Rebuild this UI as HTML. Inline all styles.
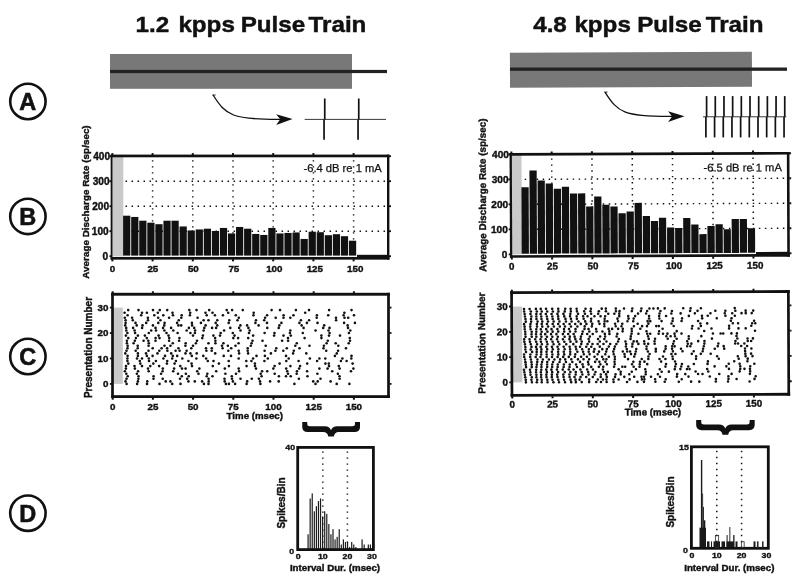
<!DOCTYPE html>
<html><head><meta charset="utf-8"><title>Pulse Train Figure</title>
<style>
html,body{margin:0;padding:0;background:#fff;}
body{width:800px;height:585px;overflow:hidden;}
svg{display:block;}
text{font-family:"Liberation Sans",Arial,Helvetica,sans-serif;fill:#111;}
.t,.ty,.yl,.ax{stroke:#111;stroke-width:.4px;}
.t{font-size:9.8px;font-weight:bold;}
.ty{font-size:10.1px;font-weight:bold;}
.yl{font-size:9.9px;font-weight:bold;}
.ax{font-size:10px;font-weight:bold;}
.td{font-size:8px;font-weight:bold;stroke:#111;stroke-width:.35px;}
.tm{font-size:9.7px;font-weight:bold;stroke:#111;stroke-width:.4px;}
.ann{font-size:11.2px;stroke:#111;stroke-width:.25px;}
.ttl{font-size:22px;font-weight:bold;}
.cl{font-size:23.5px;font-weight:bold;stroke:#111;stroke-width:.6px;}
.ttl{stroke:#111;stroke-width:.45px;}
</style></head><body>
<svg width="800" height="585" viewBox="0 0 800 585">
<rect width="800" height="585" fill="#fff"/>

<circle cx="27.9" cy="101.5" r="17.7" fill="none" stroke="#111" stroke-width="2.6"/>
<text class="cl" x="27.7" y="110.0" text-anchor="middle">A</text>
<circle cx="27.9" cy="216.4" r="17.7" fill="none" stroke="#111" stroke-width="2.6"/>
<text class="cl" x="27.7" y="224.9" text-anchor="middle">B</text>
<circle cx="27.9" cy="356.5" r="17.7" fill="none" stroke="#111" stroke-width="2.6"/>
<text class="cl" x="27.7" y="365.0" text-anchor="middle">C</text>
<circle cx="27.9" cy="513.2" r="17.7" fill="none" stroke="#111" stroke-width="2.6"/>
<text class="cl" x="27.7" y="521.7" text-anchor="middle">D</text>
<text class="ttl" transform="translate(135.5 32.4) scale(1.1 1)">1.2</text>
<text class="ttl" transform="translate(178.4 32.4) scale(1.1 1)">kpps</text>
<text class="ttl" transform="translate(240.7 32.4) scale(1.1 1)">Pulse</text>
<text class="ttl" transform="translate(308.6 32.4) scale(1.1 1)">Train</text>
<text class="ttl" transform="translate(533.2 31.8) scale(1.1 1)">4.8</text>
<text class="ttl" transform="translate(574.4 31.8) scale(1.1 1)">kpps</text>
<text class="ttl" transform="translate(637.2 31.8) scale(1.1 1)">Pulse</text>
<text class="ttl" transform="translate(705.7 31.8) scale(1.1 1)">Train</text>
<rect x="110" y="54" width="242" height="34.8" fill="#787878"/>
<rect x="110" y="69.9" width="277" height="3.2" fill="#222"/>
<g transform="rotate(-0.2332 512 205)"><rect x="510.5" y="52.8" width="242" height="34.9" fill="#787878"/></g>
<rect x="510" y="67.5" width="277" height="3.3" fill="#222"/>
<g transform="translate(0 0)">
<path d="M213.1 95 C226 115.5, 232 119.7, 281 119.3" fill="none" stroke="#111" stroke-width="1.3"/>
<path d="M292.6 119.1 L276.2 114.2 L280.2 119.3 L276.2 124.9 Z" fill="#111"/>
<line x1="212.3" y1="95" x2="215.6" y2="95" stroke="#111" stroke-width="0.9"/>
</g>
<g transform="translate(391.9 -2.9)">
<path d="M213.1 95 C226 115.5, 232 119.7, 281 119.3" fill="none" stroke="#111" stroke-width="1.3"/>
<path d="M292.6 119.1 L276.2 114.2 L280.2 119.3 L276.2 124.9 Z" fill="#111"/>
<line x1="212.3" y1="95" x2="215.6" y2="95" stroke="#111" stroke-width="0.9"/>
</g>
<line x1="304.7" y1="119.4" x2="386" y2="119.4" stroke="#222" stroke-width="0.9"/>
<line x1="324.75" y1="98.5" x2="324.75" y2="119.4" stroke="#111" stroke-width="1.7"/>
<line x1="324.05" y1="119.4" x2="324.05" y2="139.8" stroke="#111" stroke-width="1.7"/>
<line x1="358.75" y1="98.5" x2="358.75" y2="119.4" stroke="#111" stroke-width="1.7"/>
<line x1="358.05" y1="119.4" x2="358.05" y2="139.8" stroke="#111" stroke-width="1.7"/>
<line x1="703" y1="116.8" x2="786.3" y2="116.8" stroke="#222" stroke-width="0.9"/>
<line x1="706.60" y1="96.1" x2="706.60" y2="116.8" stroke="#111" stroke-width="1.7"/>
<line x1="705.90" y1="116.8" x2="705.90" y2="137.4" stroke="#111" stroke-width="1.7"/>
<line x1="715.28" y1="96.1" x2="715.28" y2="116.8" stroke="#111" stroke-width="1.7"/>
<line x1="714.58" y1="116.8" x2="714.58" y2="137.4" stroke="#111" stroke-width="1.7"/>
<line x1="723.97" y1="96.1" x2="723.97" y2="116.8" stroke="#111" stroke-width="1.7"/>
<line x1="723.27" y1="116.8" x2="723.27" y2="137.4" stroke="#111" stroke-width="1.7"/>
<line x1="732.65" y1="96.1" x2="732.65" y2="116.8" stroke="#111" stroke-width="1.7"/>
<line x1="731.95" y1="116.8" x2="731.95" y2="137.4" stroke="#111" stroke-width="1.7"/>
<line x1="741.33" y1="96.1" x2="741.33" y2="116.8" stroke="#111" stroke-width="1.7"/>
<line x1="740.63" y1="116.8" x2="740.63" y2="137.4" stroke="#111" stroke-width="1.7"/>
<line x1="750.01" y1="96.1" x2="750.01" y2="116.8" stroke="#111" stroke-width="1.7"/>
<line x1="749.31" y1="116.8" x2="749.31" y2="137.4" stroke="#111" stroke-width="1.7"/>
<line x1="758.70" y1="96.1" x2="758.70" y2="116.8" stroke="#111" stroke-width="1.7"/>
<line x1="758.00" y1="116.8" x2="758.00" y2="137.4" stroke="#111" stroke-width="1.7"/>
<line x1="767.38" y1="96.1" x2="767.38" y2="116.8" stroke="#111" stroke-width="1.7"/>
<line x1="766.68" y1="116.8" x2="766.68" y2="137.4" stroke="#111" stroke-width="1.7"/>
<line x1="776.06" y1="96.1" x2="776.06" y2="116.8" stroke="#111" stroke-width="1.7"/>
<line x1="775.36" y1="116.8" x2="775.36" y2="137.4" stroke="#111" stroke-width="1.7"/>
<line x1="784.75" y1="96.1" x2="784.75" y2="116.8" stroke="#111" stroke-width="1.7"/>
<line x1="784.05" y1="116.8" x2="784.05" y2="137.4" stroke="#111" stroke-width="1.7"/>
<rect x="111.55" y="155.95" width="11.75" height="100.25" fill="#c9c9c9"/>
<line x1="125.55" y1="231.20" x2="388.20" y2="231.20" stroke="#111" stroke-width="1.4" stroke-dasharray="1.5 4.5"/>
<line x1="125.55" y1="206.20" x2="388.20" y2="206.20" stroke="#111" stroke-width="1.4" stroke-dasharray="1.5 4.5"/>
<line x1="125.55" y1="181.20" x2="388.20" y2="181.20" stroke="#111" stroke-width="1.4" stroke-dasharray="1.5 4.5"/>
<line x1="152.60" y1="160.15" x2="152.60" y2="255.20" stroke="#111" stroke-width="1.5" stroke-dasharray="1.4 4.6"/>
<line x1="192.80" y1="160.15" x2="192.80" y2="255.20" stroke="#111" stroke-width="1.5" stroke-dasharray="1.4 4.6"/>
<line x1="233.00" y1="160.15" x2="233.00" y2="255.20" stroke="#111" stroke-width="1.5" stroke-dasharray="1.4 4.6"/>
<line x1="273.20" y1="160.15" x2="273.20" y2="255.20" stroke="#111" stroke-width="1.5" stroke-dasharray="1.4 4.6"/>
<line x1="313.40" y1="160.15" x2="313.40" y2="255.20" stroke="#111" stroke-width="1.5" stroke-dasharray="1.4 4.6"/>
<line x1="353.60" y1="160.15" x2="353.60" y2="255.20" stroke="#111" stroke-width="1.5" stroke-dasharray="1.4 4.6"/>
<rect x="123.10" y="215.70" width="7.22" height="39.90" fill="#111"/>
<rect x="131.17" y="216.95" width="7.22" height="38.65" fill="#111"/>
<rect x="139.23" y="220.70" width="7.22" height="34.90" fill="#111"/>
<rect x="147.30" y="222.70" width="7.22" height="32.90" fill="#111"/>
<rect x="155.36" y="224.20" width="7.22" height="31.40" fill="#111"/>
<rect x="163.43" y="220.70" width="7.22" height="34.90" fill="#111"/>
<rect x="171.50" y="220.70" width="7.22" height="34.90" fill="#111"/>
<rect x="179.56" y="226.45" width="7.22" height="29.15" fill="#111"/>
<rect x="187.63" y="230.45" width="7.22" height="25.15" fill="#111"/>
<rect x="195.69" y="229.45" width="7.22" height="26.15" fill="#111"/>
<rect x="203.76" y="228.70" width="7.22" height="26.90" fill="#111"/>
<rect x="211.83" y="230.95" width="7.22" height="24.65" fill="#111"/>
<rect x="219.89" y="227.95" width="7.22" height="27.65" fill="#111"/>
<rect x="227.96" y="233.45" width="7.22" height="22.15" fill="#111"/>
<rect x="236.02" y="226.95" width="7.22" height="28.65" fill="#111"/>
<rect x="244.09" y="228.70" width="7.22" height="26.90" fill="#111"/>
<rect x="252.16" y="233.95" width="7.22" height="21.65" fill="#111"/>
<rect x="260.22" y="234.95" width="7.22" height="20.65" fill="#111"/>
<rect x="268.29" y="227.95" width="7.22" height="27.65" fill="#111"/>
<rect x="276.35" y="233.45" width="7.22" height="22.15" fill="#111"/>
<rect x="284.42" y="232.95" width="7.22" height="22.65" fill="#111"/>
<rect x="292.49" y="232.45" width="7.22" height="23.15" fill="#111"/>
<rect x="300.55" y="238.95" width="7.22" height="16.65" fill="#111"/>
<rect x="308.62" y="231.70" width="7.22" height="23.90" fill="#111"/>
<rect x="316.68" y="232.20" width="7.22" height="23.40" fill="#111"/>
<rect x="324.75" y="235.20" width="7.22" height="20.40" fill="#111"/>
<rect x="332.82" y="234.20" width="7.22" height="21.40" fill="#111"/>
<rect x="340.88" y="236.20" width="7.22" height="19.40" fill="#111"/>
<rect x="348.95" y="240.70" width="7.22" height="14.90" fill="#111"/>
<rect x="357.01" y="254.80" width="31.19" height="3" fill="#111"/>
<rect x="110.65" y="154.60" width="1.8" height="105.05" fill="#111"/>
<rect x="387.00" y="154.60" width="2.4" height="105.05" fill="#111"/>
<rect x="110.65" y="154.60" width="278.75" height="2.7" fill="#111"/>
<rect x="110.65" y="256.95" width="278.75" height="2.7" fill="#111"/>
<rect x="111.40" y="153.10" width="2.0" height="2.2" fill="#111"/>
<rect x="111.40" y="259.15" width="2.0" height="2.2" fill="#111"/>
<text class="t" x="112.40" y="271.50" text-anchor="middle">0</text>
<rect x="151.60" y="153.10" width="2.0" height="2.2" fill="#111"/>
<rect x="151.60" y="259.15" width="2.0" height="2.2" fill="#111"/>
<text class="t" x="152.88" y="271.50" text-anchor="middle">25</text>
<rect x="191.80" y="153.10" width="2.0" height="2.2" fill="#111"/>
<rect x="191.80" y="259.15" width="2.0" height="2.2" fill="#111"/>
<text class="t" x="193.36" y="271.50" text-anchor="middle">50</text>
<rect x="232.00" y="153.10" width="2.0" height="2.2" fill="#111"/>
<rect x="232.00" y="259.15" width="2.0" height="2.2" fill="#111"/>
<text class="t" x="233.84" y="271.50" text-anchor="middle">75</text>
<rect x="272.20" y="153.10" width="2.0" height="2.2" fill="#111"/>
<rect x="272.20" y="259.15" width="2.0" height="2.2" fill="#111"/>
<text class="t" x="274.33" y="271.50" text-anchor="middle">100</text>
<rect x="312.40" y="153.10" width="2.0" height="2.2" fill="#111"/>
<rect x="312.40" y="259.15" width="2.0" height="2.2" fill="#111"/>
<text class="t" x="314.81" y="271.50" text-anchor="middle">125</text>
<rect x="352.60" y="153.10" width="2.0" height="2.2" fill="#111"/>
<rect x="352.60" y="259.15" width="2.0" height="2.2" fill="#111"/>
<text class="t" x="355.29" y="271.50" text-anchor="middle">150</text>
<rect x="109.45" y="255.30" width="2" height="1.8" fill="#111"/>
<rect x="389.00" y="255.30" width="2" height="1.8" fill="#111"/>
<text class="ty" x="108.15" y="259.80" text-anchor="end">0</text>
<rect x="109.45" y="230.30" width="2" height="1.8" fill="#111"/>
<rect x="389.00" y="230.30" width="2" height="1.8" fill="#111"/>
<text class="ty" x="108.62" y="234.80" text-anchor="end">100</text>
<rect x="109.45" y="205.30" width="2" height="1.8" fill="#111"/>
<rect x="389.00" y="205.30" width="2" height="1.8" fill="#111"/>
<text class="ty" x="109.10" y="209.80" text-anchor="end">200</text>
<rect x="109.45" y="180.30" width="2" height="1.8" fill="#111"/>
<rect x="389.00" y="180.30" width="2" height="1.8" fill="#111"/>
<text class="ty" x="109.58" y="184.80" text-anchor="end">300</text>
<rect x="109.45" y="155.30" width="2" height="1.8" fill="#111"/>
<rect x="389.00" y="155.30" width="2" height="1.8" fill="#111"/>
<text class="ty" x="110.05" y="159.80" text-anchor="end">400</text>
<text class="ann" x="381.8" y="171.9" text-anchor="end">-6.4 dB re 1 mA</text>
<text class="yl" transform="translate(89.0 202.0) rotate(-90)" text-anchor="middle">Average Discharge Rate (sp/sec)</text>
<g transform="rotate(-0.2332 512 205)">
<rect x="510.90" y="154.40" width="10.80" height="100.00" fill="#c9c9c9"/>
<line x1="524.77" y1="229.40" x2="788.35" y2="229.40" stroke="#111" stroke-width="1.4" stroke-dasharray="1.5 4.5"/>
<line x1="524.77" y1="204.40" x2="788.35" y2="204.40" stroke="#111" stroke-width="1.4" stroke-dasharray="1.5 4.5"/>
<line x1="524.77" y1="179.40" x2="788.35" y2="179.40" stroke="#111" stroke-width="1.4" stroke-dasharray="1.5 4.5"/>
<line x1="551.88" y1="158.60" x2="551.88" y2="253.40" stroke="#111" stroke-width="1.5" stroke-dasharray="1.4 4.6"/>
<line x1="592.15" y1="158.60" x2="592.15" y2="253.40" stroke="#111" stroke-width="1.5" stroke-dasharray="1.4 4.6"/>
<line x1="632.43" y1="158.60" x2="632.43" y2="253.40" stroke="#111" stroke-width="1.5" stroke-dasharray="1.4 4.6"/>
<line x1="672.70" y1="158.60" x2="672.70" y2="253.40" stroke="#111" stroke-width="1.5" stroke-dasharray="1.4 4.6"/>
<line x1="712.98" y1="158.60" x2="712.98" y2="253.40" stroke="#111" stroke-width="1.5" stroke-dasharray="1.4 4.6"/>
<line x1="753.25" y1="158.60" x2="753.25" y2="253.40" stroke="#111" stroke-width="1.5" stroke-dasharray="1.4 4.6"/>
<rect x="521.50" y="187.40" width="7.23" height="66.40" fill="#111"/>
<rect x="529.58" y="170.65" width="7.23" height="83.15" fill="#111"/>
<rect x="537.66" y="180.65" width="7.23" height="73.15" fill="#111"/>
<rect x="545.74" y="183.65" width="7.23" height="70.15" fill="#111"/>
<rect x="553.82" y="188.90" width="7.23" height="64.90" fill="#111"/>
<rect x="561.90" y="186.90" width="7.23" height="66.90" fill="#111"/>
<rect x="569.98" y="193.65" width="7.23" height="60.15" fill="#111"/>
<rect x="578.06" y="193.65" width="7.23" height="60.15" fill="#111"/>
<rect x="586.14" y="206.90" width="7.23" height="46.90" fill="#111"/>
<rect x="594.22" y="196.90" width="7.23" height="56.90" fill="#111"/>
<rect x="602.30" y="205.15" width="7.23" height="48.65" fill="#111"/>
<rect x="610.38" y="206.90" width="7.23" height="46.90" fill="#111"/>
<rect x="618.46" y="213.65" width="7.23" height="40.15" fill="#111"/>
<rect x="626.54" y="211.90" width="7.23" height="41.90" fill="#111"/>
<rect x="634.62" y="203.40" width="7.23" height="50.40" fill="#111"/>
<rect x="642.70" y="216.65" width="7.23" height="37.15" fill="#111"/>
<rect x="650.78" y="221.65" width="7.23" height="32.15" fill="#111"/>
<rect x="658.86" y="218.40" width="7.23" height="35.40" fill="#111"/>
<rect x="666.94" y="228.15" width="7.23" height="25.65" fill="#111"/>
<rect x="675.02" y="228.65" width="7.23" height="25.15" fill="#111"/>
<rect x="683.10" y="218.65" width="7.23" height="35.15" fill="#111"/>
<rect x="691.18" y="225.15" width="7.23" height="28.65" fill="#111"/>
<rect x="699.26" y="234.90" width="7.23" height="18.90" fill="#111"/>
<rect x="707.34" y="226.90" width="7.23" height="26.90" fill="#111"/>
<rect x="715.42" y="225.15" width="7.23" height="28.65" fill="#111"/>
<rect x="723.50" y="230.15" width="7.23" height="23.65" fill="#111"/>
<rect x="731.58" y="219.90" width="7.23" height="33.90" fill="#111"/>
<rect x="739.66" y="219.90" width="7.23" height="33.90" fill="#111"/>
<rect x="747.74" y="229.15" width="7.23" height="24.65" fill="#111"/>
<rect x="755.82" y="253.00" width="32.53" height="3" fill="#111"/>
<rect x="509.75" y="153.05" width="2.3" height="104.80" fill="#111"/>
<rect x="787.05" y="153.05" width="2.6" height="104.80" fill="#111"/>
<rect x="509.75" y="153.05" width="279.90" height="2.7" fill="#111"/>
<rect x="509.75" y="255.15" width="279.90" height="2.7" fill="#111"/>
<rect x="510.60" y="151.55" width="2.0" height="2.2" fill="#111"/>
<rect x="510.60" y="257.35" width="2.0" height="2.2" fill="#111"/>
<text class="t" x="511.60" y="269.70" text-anchor="middle">0</text>
<rect x="550.88" y="151.55" width="2.0" height="2.2" fill="#111"/>
<rect x="550.88" y="257.35" width="2.0" height="2.2" fill="#111"/>
<text class="t" x="552.16" y="269.70" text-anchor="middle">25</text>
<rect x="591.15" y="151.55" width="2.0" height="2.2" fill="#111"/>
<rect x="591.15" y="257.35" width="2.0" height="2.2" fill="#111"/>
<text class="t" x="592.71" y="269.70" text-anchor="middle">50</text>
<rect x="631.43" y="151.55" width="2.0" height="2.2" fill="#111"/>
<rect x="631.43" y="257.35" width="2.0" height="2.2" fill="#111"/>
<text class="t" x="633.27" y="269.70" text-anchor="middle">75</text>
<rect x="671.70" y="151.55" width="2.0" height="2.2" fill="#111"/>
<rect x="671.70" y="257.35" width="2.0" height="2.2" fill="#111"/>
<text class="t" x="673.83" y="269.70" text-anchor="middle">100</text>
<rect x="711.98" y="151.55" width="2.0" height="2.2" fill="#111"/>
<rect x="711.98" y="257.35" width="2.0" height="2.2" fill="#111"/>
<text class="t" x="714.38" y="269.70" text-anchor="middle">125</text>
<rect x="752.25" y="151.55" width="2.0" height="2.2" fill="#111"/>
<rect x="752.25" y="257.35" width="2.0" height="2.2" fill="#111"/>
<text class="t" x="754.94" y="269.70" text-anchor="middle">150</text>
<rect x="508.55" y="253.50" width="2" height="1.8" fill="#111"/>
<rect x="789.25" y="253.50" width="2" height="1.8" fill="#111"/>
<text class="ty" x="507.25" y="258.00" text-anchor="end">0</text>
<rect x="508.55" y="228.50" width="2" height="1.8" fill="#111"/>
<rect x="789.25" y="228.50" width="2" height="1.8" fill="#111"/>
<text class="ty" x="507.72" y="233.00" text-anchor="end">100</text>
<rect x="508.55" y="203.50" width="2" height="1.8" fill="#111"/>
<rect x="789.25" y="203.50" width="2" height="1.8" fill="#111"/>
<text class="ty" x="508.20" y="208.00" text-anchor="end">200</text>
<rect x="508.55" y="178.50" width="2" height="1.8" fill="#111"/>
<rect x="789.25" y="178.50" width="2" height="1.8" fill="#111"/>
<text class="ty" x="508.67" y="183.00" text-anchor="end">300</text>
<rect x="508.55" y="153.50" width="2" height="1.8" fill="#111"/>
<rect x="789.25" y="153.50" width="2" height="1.8" fill="#111"/>
<text class="ty" x="509.15" y="158.00" text-anchor="end">400</text>
<text class="ann" x="782.0" y="172.4" text-anchor="end">-6.5 dB re 1 mA</text>
<text class="yl" transform="translate(486.0 195.1) rotate(-90)" text-anchor="middle">Average Discharge Rate (sp/sec)</text>
</g>
<rect x="112.50" y="307.60" width="10.33" height="76.30" fill="#c9c9c9"/>
<g fill="#111"><circle cx="126.6" cy="383.9" r="1.3"/><circle cx="137.1" cy="383.9" r="1.3"/><circle cx="147.0" cy="383.9" r="1.3"/><circle cx="159.5" cy="383.9" r="1.3"/><circle cx="172.2" cy="383.9" r="1.3"/><circle cx="180.5" cy="383.9" r="1.3"/><circle cx="203.9" cy="383.9" r="1.3"/><circle cx="208.5" cy="383.9" r="1.3"/><circle cx="225.9" cy="383.9" r="1.3"/><circle cx="228.9" cy="383.9" r="1.3"/><circle cx="235.1" cy="383.9" r="1.3"/><circle cx="246.6" cy="383.9" r="1.3"/><circle cx="260.4" cy="383.9" r="1.3"/><circle cx="294.4" cy="383.9" r="1.3"/><circle cx="315.5" cy="383.9" r="1.3"/><circle cx="336.7" cy="383.9" r="1.3"/><circle cx="349.4" cy="383.9" r="1.3"/><circle cx="125.5" cy="381.4" r="1.3"/><circle cx="137.9" cy="381.4" r="1.3"/><circle cx="147.3" cy="381.4" r="1.3"/><circle cx="165.7" cy="381.4" r="1.3"/><circle cx="170.4" cy="381.4" r="1.3"/><circle cx="188.4" cy="381.4" r="1.3"/><circle cx="194.8" cy="381.4" r="1.3"/><circle cx="202.1" cy="381.4" r="1.3"/><circle cx="208.7" cy="381.4" r="1.3"/><circle cx="224.7" cy="381.4" r="1.3"/><circle cx="232.9" cy="381.4" r="1.3"/><circle cx="247.2" cy="381.4" r="1.3"/><circle cx="260.0" cy="381.4" r="1.3"/><circle cx="270.1" cy="381.4" r="1.3"/><circle cx="278.7" cy="381.4" r="1.3"/><circle cx="313.2" cy="381.4" r="1.3"/><circle cx="317.7" cy="381.4" r="1.3"/><circle cx="330.6" cy="381.4" r="1.3"/><circle cx="126.5" cy="378.8" r="1.3"/><circle cx="138.4" cy="378.8" r="1.3"/><circle cx="153.5" cy="378.8" r="1.3"/><circle cx="162.7" cy="378.8" r="1.3"/><circle cx="180.0" cy="378.8" r="1.3"/><circle cx="187.2" cy="378.8" r="1.3"/><circle cx="208.6" cy="378.8" r="1.3"/><circle cx="224.5" cy="378.8" r="1.3"/><circle cx="232.0" cy="378.8" r="1.3"/><circle cx="240.5" cy="378.8" r="1.3"/><circle cx="251.8" cy="378.8" r="1.3"/><circle cx="258.9" cy="378.8" r="1.3"/><circle cx="298.9" cy="378.8" r="1.3"/><circle cx="320.5" cy="378.8" r="1.3"/><circle cx="339.6" cy="378.8" r="1.3"/><circle cx="127.7" cy="376.3" r="1.3"/><circle cx="138.5" cy="376.3" r="1.3"/><circle cx="153.6" cy="376.3" r="1.3"/><circle cx="181.8" cy="376.3" r="1.3"/><circle cx="188.7" cy="376.3" r="1.3"/><circle cx="206.7" cy="376.3" r="1.3"/><circle cx="212.5" cy="376.3" r="1.3"/><circle cx="231.8" cy="376.3" r="1.3"/><circle cx="261.6" cy="376.3" r="1.3"/><circle cx="278.9" cy="376.3" r="1.3"/><circle cx="286.0" cy="376.3" r="1.3"/><circle cx="290.7" cy="376.3" r="1.3"/><circle cx="307.5" cy="376.3" r="1.3"/><circle cx="339.5" cy="376.3" r="1.3"/><circle cx="126.3" cy="373.7" r="1.3"/><circle cx="136.9" cy="373.7" r="1.3"/><circle cx="161.1" cy="373.7" r="1.3"/><circle cx="178.0" cy="373.7" r="1.3"/><circle cx="185.9" cy="373.7" r="1.3"/><circle cx="198.5" cy="373.7" r="1.3"/><circle cx="207.3" cy="373.7" r="1.3"/><circle cx="225.4" cy="373.7" r="1.3"/><circle cx="236.0" cy="373.7" r="1.3"/><circle cx="260.7" cy="373.7" r="1.3"/><circle cx="274.7" cy="373.7" r="1.3"/><circle cx="288.0" cy="373.7" r="1.3"/><circle cx="296.7" cy="373.7" r="1.3"/><circle cx="317.4" cy="373.7" r="1.3"/><circle cx="337.9" cy="373.7" r="1.3"/><circle cx="124.9" cy="371.2" r="1.3"/><circle cx="138.1" cy="371.2" r="1.3"/><circle cx="148.7" cy="371.2" r="1.3"/><circle cx="162.6" cy="371.2" r="1.3"/><circle cx="173.2" cy="371.2" r="1.3"/><circle cx="197.2" cy="371.2" r="1.3"/><circle cx="216.2" cy="371.2" r="1.3"/><circle cx="239.1" cy="371.2" r="1.3"/><circle cx="262.1" cy="371.2" r="1.3"/><circle cx="267.2" cy="371.2" r="1.3"/><circle cx="287.2" cy="371.2" r="1.3"/><circle cx="297.0" cy="371.2" r="1.3"/><circle cx="307.1" cy="371.2" r="1.3"/><circle cx="332.2" cy="371.2" r="1.3"/><circle cx="351.0" cy="371.2" r="1.3"/><circle cx="125.9" cy="368.6" r="1.3"/><circle cx="134.9" cy="368.6" r="1.3"/><circle cx="148.0" cy="368.6" r="1.3"/><circle cx="162.8" cy="368.6" r="1.3"/><circle cx="174.1" cy="368.6" r="1.3"/><circle cx="182.0" cy="368.6" r="1.3"/><circle cx="185.6" cy="368.6" r="1.3"/><circle cx="199.4" cy="368.6" r="1.3"/><circle cx="224.8" cy="368.6" r="1.3"/><circle cx="238.7" cy="368.6" r="1.3"/><circle cx="256.0" cy="368.6" r="1.3"/><circle cx="273.3" cy="368.6" r="1.3"/><circle cx="286.2" cy="368.6" r="1.3"/><circle cx="299.1" cy="368.6" r="1.3"/><circle cx="319.4" cy="368.6" r="1.3"/><circle cx="327.6" cy="368.6" r="1.3"/><circle cx="339.6" cy="368.6" r="1.3"/><circle cx="353.4" cy="368.6" r="1.3"/><circle cx="126.0" cy="366.1" r="1.3"/><circle cx="134.5" cy="366.1" r="1.3"/><circle cx="142.0" cy="366.1" r="1.3"/><circle cx="150.3" cy="366.1" r="1.3"/><circle cx="159.1" cy="366.1" r="1.3"/><circle cx="180.3" cy="366.1" r="1.3"/><circle cx="192.0" cy="366.1" r="1.3"/><circle cx="212.8" cy="366.1" r="1.3"/><circle cx="228.9" cy="366.1" r="1.3"/><circle cx="246.6" cy="366.1" r="1.3"/><circle cx="255.0" cy="366.1" r="1.3"/><circle cx="274.6" cy="366.1" r="1.3"/><circle cx="290.4" cy="366.1" r="1.3"/><circle cx="300.1" cy="366.1" r="1.3"/><circle cx="329.0" cy="366.1" r="1.3"/><circle cx="338.8" cy="366.1" r="1.3"/><circle cx="128.3" cy="363.6" r="1.3"/><circle cx="140.3" cy="363.6" r="1.3"/><circle cx="153.3" cy="363.6" r="1.3"/><circle cx="166.9" cy="363.6" r="1.3"/><circle cx="174.6" cy="363.6" r="1.3"/><circle cx="191.6" cy="363.6" r="1.3"/><circle cx="218.9" cy="363.6" r="1.3"/><circle cx="254.9" cy="363.6" r="1.3"/><circle cx="279.6" cy="363.6" r="1.3"/><circle cx="307.2" cy="363.6" r="1.3"/><circle cx="325.4" cy="363.6" r="1.3"/><circle cx="328.8" cy="363.6" r="1.3"/><circle cx="352.6" cy="363.6" r="1.3"/><circle cx="127.4" cy="361.0" r="1.3"/><circle cx="139.8" cy="361.0" r="1.3"/><circle cx="149.0" cy="361.0" r="1.3"/><circle cx="155.9" cy="361.0" r="1.3"/><circle cx="167.2" cy="361.0" r="1.3"/><circle cx="175.9" cy="361.0" r="1.3"/><circle cx="188.4" cy="361.0" r="1.3"/><circle cx="207.8" cy="361.0" r="1.3"/><circle cx="213.5" cy="361.0" r="1.3"/><circle cx="228.7" cy="361.0" r="1.3"/><circle cx="246.3" cy="361.0" r="1.3"/><circle cx="251.4" cy="361.0" r="1.3"/><circle cx="264.4" cy="361.0" r="1.3"/><circle cx="286.3" cy="361.0" r="1.3"/><circle cx="298.6" cy="361.0" r="1.3"/><circle cx="317.1" cy="361.0" r="1.3"/><circle cx="340.9" cy="361.0" r="1.3"/><circle cx="346.6" cy="361.0" r="1.3"/><circle cx="127.4" cy="358.5" r="1.3"/><circle cx="137.0" cy="358.5" r="1.3"/><circle cx="142.0" cy="358.5" r="1.3"/><circle cx="148.8" cy="358.5" r="1.3"/><circle cx="163.4" cy="358.5" r="1.3"/><circle cx="172.2" cy="358.5" r="1.3"/><circle cx="182.3" cy="358.5" r="1.3"/><circle cx="196.4" cy="358.5" r="1.3"/><circle cx="206.1" cy="358.5" r="1.3"/><circle cx="238.7" cy="358.5" r="1.3"/><circle cx="253.1" cy="358.5" r="1.3"/><circle cx="267.8" cy="358.5" r="1.3"/><circle cx="288.7" cy="358.5" r="1.3"/><circle cx="309.9" cy="358.5" r="1.3"/><circle cx="319.4" cy="358.5" r="1.3"/><circle cx="325.3" cy="358.5" r="1.3"/><circle cx="342.4" cy="358.5" r="1.3"/><circle cx="351.3" cy="358.5" r="1.3"/><circle cx="127.6" cy="355.9" r="1.3"/><circle cx="137.9" cy="355.9" r="1.3"/><circle cx="146.9" cy="355.9" r="1.3"/><circle cx="152.6" cy="355.9" r="1.3"/><circle cx="165.0" cy="355.9" r="1.3"/><circle cx="172.8" cy="355.9" r="1.3"/><circle cx="177.2" cy="355.9" r="1.3"/><circle cx="191.8" cy="355.9" r="1.3"/><circle cx="203.3" cy="355.9" r="1.3"/><circle cx="223.7" cy="355.9" r="1.3"/><circle cx="231.0" cy="355.9" r="1.3"/><circle cx="256.5" cy="355.9" r="1.3"/><circle cx="264.9" cy="355.9" r="1.3"/><circle cx="286.0" cy="355.9" r="1.3"/><circle cx="334.9" cy="355.9" r="1.3"/><circle cx="351.5" cy="355.9" r="1.3"/><circle cx="125.3" cy="353.4" r="1.3"/><circle cx="137.9" cy="353.4" r="1.3"/><circle cx="146.0" cy="353.4" r="1.3"/><circle cx="157.5" cy="353.4" r="1.3"/><circle cx="171.2" cy="353.4" r="1.3"/><circle cx="185.5" cy="353.4" r="1.3"/><circle cx="190.4" cy="353.4" r="1.3"/><circle cx="196.7" cy="353.4" r="1.3"/><circle cx="215.2" cy="353.4" r="1.3"/><circle cx="239.1" cy="353.4" r="1.3"/><circle cx="248.1" cy="353.4" r="1.3"/><circle cx="270.9" cy="353.4" r="1.3"/><circle cx="293.1" cy="353.4" r="1.3"/><circle cx="306.3" cy="353.4" r="1.3"/><circle cx="336.8" cy="353.4" r="1.3"/><circle cx="126.5" cy="350.8" r="1.3"/><circle cx="135.7" cy="350.8" r="1.3"/><circle cx="148.5" cy="350.8" r="1.3"/><circle cx="159.3" cy="350.8" r="1.3"/><circle cx="167.4" cy="350.8" r="1.3"/><circle cx="175.6" cy="350.8" r="1.3"/><circle cx="179.6" cy="350.8" r="1.3"/><circle cx="186.6" cy="350.8" r="1.3"/><circle cx="206.4" cy="350.8" r="1.3"/><circle cx="211.7" cy="350.8" r="1.3"/><circle cx="228.3" cy="350.8" r="1.3"/><circle cx="238.7" cy="350.8" r="1.3"/><circle cx="247.7" cy="350.8" r="1.3"/><circle cx="264.6" cy="350.8" r="1.3"/><circle cx="275.4" cy="350.8" r="1.3"/><circle cx="283.3" cy="350.8" r="1.3"/><circle cx="293.8" cy="350.8" r="1.3"/><circle cx="326.2" cy="350.8" r="1.3"/><circle cx="338.1" cy="350.8" r="1.3"/><circle cx="127.5" cy="348.3" r="1.3"/><circle cx="137.7" cy="348.3" r="1.3"/><circle cx="152.7" cy="348.3" r="1.3"/><circle cx="161.6" cy="348.3" r="1.3"/><circle cx="167.1" cy="348.3" r="1.3"/><circle cx="178.4" cy="348.3" r="1.3"/><circle cx="191.3" cy="348.3" r="1.3"/><circle cx="206.0" cy="348.3" r="1.3"/><circle cx="211.8" cy="348.3" r="1.3"/><circle cx="222.6" cy="348.3" r="1.3"/><circle cx="231.2" cy="348.3" r="1.3"/><circle cx="247.7" cy="348.3" r="1.3"/><circle cx="276.3" cy="348.3" r="1.3"/><circle cx="286.8" cy="348.3" r="1.3"/><circle cx="299.5" cy="348.3" r="1.3"/><circle cx="323.5" cy="348.3" r="1.3"/><circle cx="346.0" cy="348.3" r="1.3"/><circle cx="127.7" cy="345.8" r="1.3"/><circle cx="137.7" cy="345.8" r="1.3"/><circle cx="148.6" cy="345.8" r="1.3"/><circle cx="164.5" cy="345.8" r="1.3"/><circle cx="170.5" cy="345.8" r="1.3"/><circle cx="185.4" cy="345.8" r="1.3"/><circle cx="193.0" cy="345.8" r="1.3"/><circle cx="222.0" cy="345.8" r="1.3"/><circle cx="227.9" cy="345.8" r="1.3"/><circle cx="235.5" cy="345.8" r="1.3"/><circle cx="250.8" cy="345.8" r="1.3"/><circle cx="265.7" cy="345.8" r="1.3"/><circle cx="295.3" cy="345.8" r="1.3"/><circle cx="309.5" cy="345.8" r="1.3"/><circle cx="323.9" cy="345.8" r="1.3"/><circle cx="338.3" cy="345.8" r="1.3"/><circle cx="126.9" cy="343.2" r="1.3"/><circle cx="133.6" cy="343.2" r="1.3"/><circle cx="148.8" cy="343.2" r="1.3"/><circle cx="172.8" cy="343.2" r="1.3"/><circle cx="185.7" cy="343.2" r="1.3"/><circle cx="195.9" cy="343.2" r="1.3"/><circle cx="208.5" cy="343.2" r="1.3"/><circle cx="215.4" cy="343.2" r="1.3"/><circle cx="223.4" cy="343.2" r="1.3"/><circle cx="238.6" cy="343.2" r="1.3"/><circle cx="251.6" cy="343.2" r="1.3"/><circle cx="296.8" cy="343.2" r="1.3"/><circle cx="326.6" cy="343.2" r="1.3"/><circle cx="335.7" cy="343.2" r="1.3"/><circle cx="348.7" cy="343.2" r="1.3"/><circle cx="126.9" cy="340.7" r="1.3"/><circle cx="134.8" cy="340.7" r="1.3"/><circle cx="143.6" cy="340.7" r="1.3"/><circle cx="148.3" cy="340.7" r="1.3"/><circle cx="155.5" cy="340.7" r="1.3"/><circle cx="169.1" cy="340.7" r="1.3"/><circle cx="179.1" cy="340.7" r="1.3"/><circle cx="197.0" cy="340.7" r="1.3"/><circle cx="215.4" cy="340.7" r="1.3"/><circle cx="252.5" cy="340.7" r="1.3"/><circle cx="262.5" cy="340.7" r="1.3"/><circle cx="282.1" cy="340.7" r="1.3"/><circle cx="288.1" cy="340.7" r="1.3"/><circle cx="327.8" cy="340.7" r="1.3"/><circle cx="350.0" cy="340.7" r="1.3"/><circle cx="128.3" cy="338.1" r="1.3"/><circle cx="135.9" cy="338.1" r="1.3"/><circle cx="146.8" cy="338.1" r="1.3"/><circle cx="155.6" cy="338.1" r="1.3"/><circle cx="159.5" cy="338.1" r="1.3"/><circle cx="169.2" cy="338.1" r="1.3"/><circle cx="179.4" cy="338.1" r="1.3"/><circle cx="202.3" cy="338.1" r="1.3"/><circle cx="215.1" cy="338.1" r="1.3"/><circle cx="233.3" cy="338.1" r="1.3"/><circle cx="238.1" cy="338.1" r="1.3"/><circle cx="248.2" cy="338.1" r="1.3"/><circle cx="288.0" cy="338.1" r="1.3"/><circle cx="304.6" cy="338.1" r="1.3"/><circle cx="321.4" cy="338.1" r="1.3"/><circle cx="349.8" cy="338.1" r="1.3"/><circle cx="125.9" cy="335.6" r="1.3"/><circle cx="137.9" cy="335.6" r="1.3"/><circle cx="144.9" cy="335.6" r="1.3"/><circle cx="158.6" cy="335.6" r="1.3"/><circle cx="168.5" cy="335.6" r="1.3"/><circle cx="193.0" cy="335.6" r="1.3"/><circle cx="202.9" cy="335.6" r="1.3"/><circle cx="213.4" cy="335.6" r="1.3"/><circle cx="220.0" cy="335.6" r="1.3"/><circle cx="234.5" cy="335.6" r="1.3"/><circle cx="253.1" cy="335.6" r="1.3"/><circle cx="274.1" cy="335.6" r="1.3"/><circle cx="283.5" cy="335.6" r="1.3"/><circle cx="290.8" cy="335.6" r="1.3"/><circle cx="321.4" cy="335.6" r="1.3"/><circle cx="329.0" cy="335.6" r="1.3"/><circle cx="340.0" cy="335.6" r="1.3"/><circle cx="127.4" cy="333.0" r="1.3"/><circle cx="135.1" cy="333.0" r="1.3"/><circle cx="148.8" cy="333.0" r="1.3"/><circle cx="166.5" cy="333.0" r="1.3"/><circle cx="177.6" cy="333.0" r="1.3"/><circle cx="190.4" cy="333.0" r="1.3"/><circle cx="194.9" cy="333.0" r="1.3"/><circle cx="220.7" cy="333.0" r="1.3"/><circle cx="232.8" cy="333.0" r="1.3"/><circle cx="249.0" cy="333.0" r="1.3"/><circle cx="264.6" cy="333.0" r="1.3"/><circle cx="274.5" cy="333.0" r="1.3"/><circle cx="289.9" cy="333.0" r="1.3"/><circle cx="302.8" cy="333.0" r="1.3"/><circle cx="329.6" cy="333.0" r="1.3"/><circle cx="348.9" cy="333.0" r="1.3"/><circle cx="126.3" cy="330.5" r="1.3"/><circle cx="134.6" cy="330.5" r="1.3"/><circle cx="151.2" cy="330.5" r="1.3"/><circle cx="156.0" cy="330.5" r="1.3"/><circle cx="164.4" cy="330.5" r="1.3"/><circle cx="173.3" cy="330.5" r="1.3"/><circle cx="186.7" cy="330.5" r="1.3"/><circle cx="195.1" cy="330.5" r="1.3"/><circle cx="203.6" cy="330.5" r="1.3"/><circle cx="224.1" cy="330.5" r="1.3"/><circle cx="240.5" cy="330.5" r="1.3"/><circle cx="249.7" cy="330.5" r="1.3"/><circle cx="290.3" cy="330.5" r="1.3"/><circle cx="315.6" cy="330.5" r="1.3"/><circle cx="328.5" cy="330.5" r="1.3"/><circle cx="350.3" cy="330.5" r="1.3"/><circle cx="126.2" cy="327.9" r="1.3"/><circle cx="133.1" cy="327.9" r="1.3"/><circle cx="142.1" cy="327.9" r="1.3"/><circle cx="155.5" cy="327.9" r="1.3"/><circle cx="163.1" cy="327.9" r="1.3"/><circle cx="171.1" cy="327.9" r="1.3"/><circle cx="188.9" cy="327.9" r="1.3"/><circle cx="194.2" cy="327.9" r="1.3"/><circle cx="204.3" cy="327.9" r="1.3"/><circle cx="212.1" cy="327.9" r="1.3"/><circle cx="216.1" cy="327.9" r="1.3"/><circle cx="230.3" cy="327.9" r="1.3"/><circle cx="239.1" cy="327.9" r="1.3"/><circle cx="248.4" cy="327.9" r="1.3"/><circle cx="267.3" cy="327.9" r="1.3"/><circle cx="278.7" cy="327.9" r="1.3"/><circle cx="303.6" cy="327.9" r="1.3"/><circle cx="323.2" cy="327.9" r="1.3"/><circle cx="329.5" cy="327.9" r="1.3"/><circle cx="348.0" cy="327.9" r="1.3"/><circle cx="125.2" cy="325.4" r="1.3"/><circle cx="136.7" cy="325.4" r="1.3"/><circle cx="142.5" cy="325.4" r="1.3"/><circle cx="152.9" cy="325.4" r="1.3"/><circle cx="164.3" cy="325.4" r="1.3"/><circle cx="178.4" cy="325.4" r="1.3"/><circle cx="181.2" cy="325.4" r="1.3"/><circle cx="192.1" cy="325.4" r="1.3"/><circle cx="205.6" cy="325.4" r="1.3"/><circle cx="217.3" cy="325.4" r="1.3"/><circle cx="240.4" cy="325.4" r="1.3"/><circle cx="247.1" cy="325.4" r="1.3"/><circle cx="258.6" cy="325.4" r="1.3"/><circle cx="279.4" cy="325.4" r="1.3"/><circle cx="301.6" cy="325.4" r="1.3"/><circle cx="324.2" cy="325.4" r="1.3"/><circle cx="347.6" cy="325.4" r="1.3"/><circle cx="125.6" cy="322.9" r="1.3"/><circle cx="135.5" cy="322.9" r="1.3"/><circle cx="146.2" cy="322.9" r="1.3"/><circle cx="158.3" cy="322.9" r="1.3"/><circle cx="164.6" cy="322.9" r="1.3"/><circle cx="177.1" cy="322.9" r="1.3"/><circle cx="191.9" cy="322.9" r="1.3"/><circle cx="200.9" cy="322.9" r="1.3"/><circle cx="215.7" cy="322.9" r="1.3"/><circle cx="228.7" cy="322.9" r="1.3"/><circle cx="255.4" cy="322.9" r="1.3"/><circle cx="267.0" cy="322.9" r="1.3"/><circle cx="281.4" cy="322.9" r="1.3"/><circle cx="299.4" cy="322.9" r="1.3"/><circle cx="306.9" cy="322.9" r="1.3"/><circle cx="317.5" cy="322.9" r="1.3"/><circle cx="344.1" cy="322.9" r="1.3"/><circle cx="354.9" cy="322.9" r="1.3"/><circle cx="125.6" cy="320.3" r="1.3"/><circle cx="132.8" cy="320.3" r="1.3"/><circle cx="148.0" cy="320.3" r="1.3"/><circle cx="160.4" cy="320.3" r="1.3"/><circle cx="178.8" cy="320.3" r="1.3"/><circle cx="203.6" cy="320.3" r="1.3"/><circle cx="208.5" cy="320.3" r="1.3"/><circle cx="217.3" cy="320.3" r="1.3"/><circle cx="229.3" cy="320.3" r="1.3"/><circle cx="237.5" cy="320.3" r="1.3"/><circle cx="256.0" cy="320.3" r="1.3"/><circle cx="264.2" cy="320.3" r="1.3"/><circle cx="300.9" cy="320.3" r="1.3"/><circle cx="309.1" cy="320.3" r="1.3"/><circle cx="336.1" cy="320.3" r="1.3"/><circle cx="124.8" cy="317.8" r="1.3"/><circle cx="132.1" cy="317.8" r="1.3"/><circle cx="147.9" cy="317.8" r="1.3"/><circle cx="158.2" cy="317.8" r="1.3"/><circle cx="169.1" cy="317.8" r="1.3"/><circle cx="181.3" cy="317.8" r="1.3"/><circle cx="197.6" cy="317.8" r="1.3"/><circle cx="238.8" cy="317.8" r="1.3"/><circle cx="265.1" cy="317.8" r="1.3"/><circle cx="275.7" cy="317.8" r="1.3"/><circle cx="283.5" cy="317.8" r="1.3"/><circle cx="290.3" cy="317.8" r="1.3"/><circle cx="316.7" cy="317.8" r="1.3"/><circle cx="336.0" cy="317.8" r="1.3"/><circle cx="344.5" cy="317.8" r="1.3"/><circle cx="348.2" cy="317.8" r="1.3"/><circle cx="127.6" cy="315.2" r="1.3"/><circle cx="141.2" cy="315.2" r="1.3"/><circle cx="154.3" cy="315.2" r="1.3"/><circle cx="163.3" cy="315.2" r="1.3"/><circle cx="173.0" cy="315.2" r="1.3"/><circle cx="181.7" cy="315.2" r="1.3"/><circle cx="189.9" cy="315.2" r="1.3"/><circle cx="206.7" cy="315.2" r="1.3"/><circle cx="214.9" cy="315.2" r="1.3"/><circle cx="222.9" cy="315.2" r="1.3"/><circle cx="235.8" cy="315.2" r="1.3"/><circle cx="253.5" cy="315.2" r="1.3"/><circle cx="267.1" cy="315.2" r="1.3"/><circle cx="283.6" cy="315.2" r="1.3"/><circle cx="293.5" cy="315.2" r="1.3"/><circle cx="316.9" cy="315.2" r="1.3"/><circle cx="328.2" cy="315.2" r="1.3"/><circle cx="343.6" cy="315.2" r="1.3"/><circle cx="354.0" cy="315.2" r="1.3"/><circle cx="124.6" cy="312.7" r="1.3"/><circle cx="142.0" cy="312.7" r="1.3"/><circle cx="146.9" cy="312.7" r="1.3"/><circle cx="157.8" cy="312.7" r="1.3"/><circle cx="172.5" cy="312.7" r="1.3"/><circle cx="190.2" cy="312.7" r="1.3"/><circle cx="205.5" cy="312.7" r="1.3"/><circle cx="212.5" cy="312.7" r="1.3"/><circle cx="228.2" cy="312.7" r="1.3"/><circle cx="253.7" cy="312.7" r="1.3"/><circle cx="305.2" cy="312.7" r="1.3"/><circle cx="344.4" cy="312.7" r="1.3"/><circle cx="128.2" cy="310.1" r="1.3"/><circle cx="138.5" cy="310.1" r="1.3"/><circle cx="153.0" cy="310.1" r="1.3"/><circle cx="159.8" cy="310.1" r="1.3"/><circle cx="167.2" cy="310.1" r="1.3"/><circle cx="189.3" cy="310.1" r="1.3"/><circle cx="196.5" cy="310.1" r="1.3"/><circle cx="209.2" cy="310.1" r="1.3"/><circle cx="226.7" cy="310.1" r="1.3"/><circle cx="232.1" cy="310.1" r="1.3"/><circle cx="242.8" cy="310.1" r="1.3"/><circle cx="271.6" cy="310.1" r="1.3"/><circle cx="280.0" cy="310.1" r="1.3"/><circle cx="295.9" cy="310.1" r="1.3"/><circle cx="309.0" cy="310.1" r="1.3"/><circle cx="329.1" cy="310.1" r="1.3"/><circle cx="351.5" cy="310.1" r="1.3"/></g>
<rect x="111.15" y="292.80" width="2.7" height="105.20" fill="#111"/>
<rect x="387.15" y="292.80" width="2.7" height="105.20" fill="#111"/>
<rect x="111.15" y="292.80" width="278.70" height="2.9" fill="#111"/>
<rect x="111.15" y="395.20" width="278.70" height="2.8" fill="#111"/>
<rect x="111.70" y="291.30" width="2.0" height="2.2" fill="#111"/>
<rect x="111.70" y="397.50" width="2.0" height="2.2" fill="#111"/>
<text class="t" x="112.70" y="409.60" text-anchor="middle">0</text>
<rect x="151.90" y="291.30" width="2.0" height="2.2" fill="#111"/>
<rect x="151.90" y="397.50" width="2.0" height="2.2" fill="#111"/>
<text class="t" x="152.90" y="409.60" text-anchor="middle">25</text>
<rect x="192.10" y="291.30" width="2.0" height="2.2" fill="#111"/>
<rect x="192.10" y="397.50" width="2.0" height="2.2" fill="#111"/>
<text class="t" x="193.10" y="409.60" text-anchor="middle">50</text>
<rect x="232.30" y="291.30" width="2.0" height="2.2" fill="#111"/>
<rect x="232.30" y="397.50" width="2.0" height="2.2" fill="#111"/>
<text class="t" x="233.30" y="409.60" text-anchor="middle">75</text>
<rect x="272.50" y="291.30" width="2.0" height="2.2" fill="#111"/>
<rect x="272.50" y="397.50" width="2.0" height="2.2" fill="#111"/>
<text class="t" x="273.50" y="409.60" text-anchor="middle">100</text>
<rect x="312.70" y="291.30" width="2.0" height="2.2" fill="#111"/>
<rect x="312.70" y="397.50" width="2.0" height="2.2" fill="#111"/>
<text class="t" x="313.70" y="409.60" text-anchor="middle">125</text>
<rect x="352.90" y="291.30" width="2.0" height="2.2" fill="#111"/>
<rect x="352.90" y="397.50" width="2.0" height="2.2" fill="#111"/>
<text class="t" x="353.90" y="409.60" text-anchor="middle">150</text>
<rect x="109.90" y="383.00" width="2" height="1.8" fill="#111"/>
<rect x="389.50" y="383.00" width="2" height="1.8" fill="#111"/>
<text class="t" x="108.50" y="387.30" text-anchor="end">0</text>
<rect x="109.90" y="357.57" width="2" height="1.8" fill="#111"/>
<rect x="389.50" y="357.57" width="2" height="1.8" fill="#111"/>
<text class="t" x="108.50" y="361.87" text-anchor="end">10</text>
<rect x="109.90" y="332.13" width="2" height="1.8" fill="#111"/>
<rect x="389.50" y="332.13" width="2" height="1.8" fill="#111"/>
<text class="t" x="108.50" y="336.43" text-anchor="end">20</text>
<rect x="109.90" y="306.70" width="2" height="1.8" fill="#111"/>
<rect x="389.50" y="306.70" width="2" height="1.8" fill="#111"/>
<text class="t" x="108.50" y="311.00" text-anchor="end">30</text>
<text class="tm" x="254.8" y="418.8" text-anchor="middle">Time (msec)</text>
<text class="ax" transform="translate(91.6 347.5) rotate(-90)" text-anchor="middle">Presentation Number</text>
<g transform="rotate(-0.2332 512 205)">
<rect x="511.20" y="306.50" width="10.45" height="75.90" fill="#c9c9c9"/>
<g fill="#111"><circle cx="525.2" cy="382.4" r="1.3"/><circle cx="531.2" cy="382.4" r="1.3"/><circle cx="536.1" cy="382.4" r="1.3"/><circle cx="541.0" cy="382.4" r="1.3"/><circle cx="546.8" cy="382.4" r="1.3"/><circle cx="552.7" cy="382.4" r="1.3"/><circle cx="558.3" cy="382.4" r="1.3"/><circle cx="564.3" cy="382.4" r="1.3"/><circle cx="570.5" cy="382.4" r="1.3"/><circle cx="575.1" cy="382.4" r="1.3"/><circle cx="581.0" cy="382.4" r="1.3"/><circle cx="588.4" cy="382.4" r="1.3"/><circle cx="595.5" cy="382.4" r="1.3"/><circle cx="600.3" cy="382.4" r="1.3"/><circle cx="605.9" cy="382.4" r="1.3"/><circle cx="612.9" cy="382.4" r="1.3"/><circle cx="626.3" cy="382.4" r="1.3"/><circle cx="636.7" cy="382.4" r="1.3"/><circle cx="643.2" cy="382.4" r="1.3"/><circle cx="654.7" cy="382.4" r="1.3"/><circle cx="664.0" cy="382.4" r="1.3"/><circle cx="678.1" cy="382.4" r="1.3"/><circle cx="690.4" cy="382.4" r="1.3"/><circle cx="698.6" cy="382.4" r="1.3"/><circle cx="715.1" cy="382.4" r="1.3"/><circle cx="727.3" cy="382.4" r="1.3"/><circle cx="748.9" cy="382.4" r="1.3"/><circle cx="525.0" cy="379.9" r="1.3"/><circle cx="530.7" cy="379.9" r="1.3"/><circle cx="536.5" cy="379.9" r="1.3"/><circle cx="541.0" cy="379.9" r="1.3"/><circle cx="546.6" cy="379.9" r="1.3"/><circle cx="551.8" cy="379.9" r="1.3"/><circle cx="557.6" cy="379.9" r="1.3"/><circle cx="563.4" cy="379.9" r="1.3"/><circle cx="569.8" cy="379.9" r="1.3"/><circle cx="574.8" cy="379.9" r="1.3"/><circle cx="578.9" cy="379.9" r="1.3"/><circle cx="588.5" cy="379.9" r="1.3"/><circle cx="597.1" cy="379.9" r="1.3"/><circle cx="602.2" cy="379.9" r="1.3"/><circle cx="605.7" cy="379.9" r="1.3"/><circle cx="612.7" cy="379.9" r="1.3"/><circle cx="617.9" cy="379.9" r="1.3"/><circle cx="628.9" cy="379.9" r="1.3"/><circle cx="641.2" cy="379.9" r="1.3"/><circle cx="643.7" cy="379.9" r="1.3"/><circle cx="654.4" cy="379.9" r="1.3"/><circle cx="665.0" cy="379.9" r="1.3"/><circle cx="681.0" cy="379.9" r="1.3"/><circle cx="715.2" cy="379.9" r="1.3"/><circle cx="727.8" cy="379.9" r="1.3"/><circle cx="735.9" cy="379.9" r="1.3"/><circle cx="753.8" cy="379.9" r="1.3"/><circle cx="524.5" cy="377.3" r="1.3"/><circle cx="531.1" cy="377.3" r="1.3"/><circle cx="535.7" cy="377.3" r="1.3"/><circle cx="540.4" cy="377.3" r="1.3"/><circle cx="545.8" cy="377.3" r="1.3"/><circle cx="551.1" cy="377.3" r="1.3"/><circle cx="556.8" cy="377.3" r="1.3"/><circle cx="562.9" cy="377.3" r="1.3"/><circle cx="568.9" cy="377.3" r="1.3"/><circle cx="573.8" cy="377.3" r="1.3"/><circle cx="579.9" cy="377.3" r="1.3"/><circle cx="585.5" cy="377.3" r="1.3"/><circle cx="592.1" cy="377.3" r="1.3"/><circle cx="600.0" cy="377.3" r="1.3"/><circle cx="606.1" cy="377.3" r="1.3"/><circle cx="614.3" cy="377.3" r="1.3"/><circle cx="623.6" cy="377.3" r="1.3"/><circle cx="633.5" cy="377.3" r="1.3"/><circle cx="640.8" cy="377.3" r="1.3"/><circle cx="643.3" cy="377.3" r="1.3"/><circle cx="650.3" cy="377.3" r="1.3"/><circle cx="659.3" cy="377.3" r="1.3"/><circle cx="676.2" cy="377.3" r="1.3"/><circle cx="687.8" cy="377.3" r="1.3"/><circle cx="709.1" cy="377.3" r="1.3"/><circle cx="727.7" cy="377.3" r="1.3"/><circle cx="755.0" cy="377.3" r="1.3"/><circle cx="524.2" cy="374.8" r="1.3"/><circle cx="529.8" cy="374.8" r="1.3"/><circle cx="535.7" cy="374.8" r="1.3"/><circle cx="540.5" cy="374.8" r="1.3"/><circle cx="545.7" cy="374.8" r="1.3"/><circle cx="551.2" cy="374.8" r="1.3"/><circle cx="556.5" cy="374.8" r="1.3"/><circle cx="562.6" cy="374.8" r="1.3"/><circle cx="568.7" cy="374.8" r="1.3"/><circle cx="575.0" cy="374.8" r="1.3"/><circle cx="581.7" cy="374.8" r="1.3"/><circle cx="587.9" cy="374.8" r="1.3"/><circle cx="593.8" cy="374.8" r="1.3"/><circle cx="600.1" cy="374.8" r="1.3"/><circle cx="605.4" cy="374.8" r="1.3"/><circle cx="614.9" cy="374.8" r="1.3"/><circle cx="620.0" cy="374.8" r="1.3"/><circle cx="628.6" cy="374.8" r="1.3"/><circle cx="645.0" cy="374.8" r="1.3"/><circle cx="657.2" cy="374.8" r="1.3"/><circle cx="676.5" cy="374.8" r="1.3"/><circle cx="684.6" cy="374.8" r="1.3"/><circle cx="697.4" cy="374.8" r="1.3"/><circle cx="701.8" cy="374.8" r="1.3"/><circle cx="718.6" cy="374.8" r="1.3"/><circle cx="730.9" cy="374.8" r="1.3"/><circle cx="749.2" cy="374.8" r="1.3"/><circle cx="523.7" cy="372.3" r="1.3"/><circle cx="529.7" cy="372.3" r="1.3"/><circle cx="535.4" cy="372.3" r="1.3"/><circle cx="540.2" cy="372.3" r="1.3"/><circle cx="546.2" cy="372.3" r="1.3"/><circle cx="551.5" cy="372.3" r="1.3"/><circle cx="557.4" cy="372.3" r="1.3"/><circle cx="564.1" cy="372.3" r="1.3"/><circle cx="569.7" cy="372.3" r="1.3"/><circle cx="575.1" cy="372.3" r="1.3"/><circle cx="580.9" cy="372.3" r="1.3"/><circle cx="587.5" cy="372.3" r="1.3"/><circle cx="594.8" cy="372.3" r="1.3"/><circle cx="603.3" cy="372.3" r="1.3"/><circle cx="607.1" cy="372.3" r="1.3"/><circle cx="620.0" cy="372.3" r="1.3"/><circle cx="631.1" cy="372.3" r="1.3"/><circle cx="645.1" cy="372.3" r="1.3"/><circle cx="661.0" cy="372.3" r="1.3"/><circle cx="668.2" cy="372.3" r="1.3"/><circle cx="694.9" cy="372.3" r="1.3"/><circle cx="707.6" cy="372.3" r="1.3"/><circle cx="739.0" cy="372.3" r="1.3"/><circle cx="749.5" cy="372.3" r="1.3"/><circle cx="523.3" cy="369.8" r="1.3"/><circle cx="529.3" cy="369.8" r="1.3"/><circle cx="535.5" cy="369.8" r="1.3"/><circle cx="540.6" cy="369.8" r="1.3"/><circle cx="545.6" cy="369.8" r="1.3"/><circle cx="550.7" cy="369.8" r="1.3"/><circle cx="556.3" cy="369.8" r="1.3"/><circle cx="562.1" cy="369.8" r="1.3"/><circle cx="568.1" cy="369.8" r="1.3"/><circle cx="572.9" cy="369.8" r="1.3"/><circle cx="579.7" cy="369.8" r="1.3"/><circle cx="586.5" cy="369.8" r="1.3"/><circle cx="592.3" cy="369.8" r="1.3"/><circle cx="602.2" cy="369.8" r="1.3"/><circle cx="618.0" cy="369.8" r="1.3"/><circle cx="635.3" cy="369.8" r="1.3"/><circle cx="644.6" cy="369.8" r="1.3"/><circle cx="659.1" cy="369.8" r="1.3"/><circle cx="674.1" cy="369.8" r="1.3"/><circle cx="679.7" cy="369.8" r="1.3"/><circle cx="686.3" cy="369.8" r="1.3"/><circle cx="688.9" cy="369.8" r="1.3"/><circle cx="706.5" cy="369.8" r="1.3"/><circle cx="728.3" cy="369.8" r="1.3"/><circle cx="739.6" cy="369.8" r="1.3"/><circle cx="743.8" cy="369.8" r="1.3"/><circle cx="749.3" cy="369.8" r="1.3"/><circle cx="525.4" cy="367.2" r="1.3"/><circle cx="531.1" cy="367.2" r="1.3"/><circle cx="535.8" cy="367.2" r="1.3"/><circle cx="540.8" cy="367.2" r="1.3"/><circle cx="546.5" cy="367.2" r="1.3"/><circle cx="551.5" cy="367.2" r="1.3"/><circle cx="557.0" cy="367.2" r="1.3"/><circle cx="563.0" cy="367.2" r="1.3"/><circle cx="568.9" cy="367.2" r="1.3"/><circle cx="576.3" cy="367.2" r="1.3"/><circle cx="582.6" cy="367.2" r="1.3"/><circle cx="590.6" cy="367.2" r="1.3"/><circle cx="598.2" cy="367.2" r="1.3"/><circle cx="602.6" cy="367.2" r="1.3"/><circle cx="613.4" cy="367.2" r="1.3"/><circle cx="621.7" cy="367.2" r="1.3"/><circle cx="624.5" cy="367.2" r="1.3"/><circle cx="633.0" cy="367.2" r="1.3"/><circle cx="638.9" cy="367.2" r="1.3"/><circle cx="664.8" cy="367.2" r="1.3"/><circle cx="674.6" cy="367.2" r="1.3"/><circle cx="680.6" cy="367.2" r="1.3"/><circle cx="687.6" cy="367.2" r="1.3"/><circle cx="714.0" cy="367.2" r="1.3"/><circle cx="725.7" cy="367.2" r="1.3"/><circle cx="739.6" cy="367.2" r="1.3"/><circle cx="749.6" cy="367.2" r="1.3"/><circle cx="525.1" cy="364.7" r="1.3"/><circle cx="531.1" cy="364.7" r="1.3"/><circle cx="536.2" cy="364.7" r="1.3"/><circle cx="540.8" cy="364.7" r="1.3"/><circle cx="546.5" cy="364.7" r="1.3"/><circle cx="551.6" cy="364.7" r="1.3"/><circle cx="557.1" cy="364.7" r="1.3"/><circle cx="563.2" cy="364.7" r="1.3"/><circle cx="569.1" cy="364.7" r="1.3"/><circle cx="575.4" cy="364.7" r="1.3"/><circle cx="581.9" cy="364.7" r="1.3"/><circle cx="587.9" cy="364.7" r="1.3"/><circle cx="599.7" cy="364.7" r="1.3"/><circle cx="606.2" cy="364.7" r="1.3"/><circle cx="614.1" cy="364.7" r="1.3"/><circle cx="631.4" cy="364.7" r="1.3"/><circle cx="639.1" cy="364.7" r="1.3"/><circle cx="646.6" cy="364.7" r="1.3"/><circle cx="665.4" cy="364.7" r="1.3"/><circle cx="675.3" cy="364.7" r="1.3"/><circle cx="681.3" cy="364.7" r="1.3"/><circle cx="693.2" cy="364.7" r="1.3"/><circle cx="706.9" cy="364.7" r="1.3"/><circle cx="728.1" cy="364.7" r="1.3"/><circle cx="739.0" cy="364.7" r="1.3"/><circle cx="753.7" cy="364.7" r="1.3"/><circle cx="524.8" cy="362.2" r="1.3"/><circle cx="530.8" cy="362.2" r="1.3"/><circle cx="536.6" cy="362.2" r="1.3"/><circle cx="541.4" cy="362.2" r="1.3"/><circle cx="546.6" cy="362.2" r="1.3"/><circle cx="552.4" cy="362.2" r="1.3"/><circle cx="558.9" cy="362.2" r="1.3"/><circle cx="565.3" cy="362.2" r="1.3"/><circle cx="571.7" cy="362.2" r="1.3"/><circle cx="579.4" cy="362.2" r="1.3"/><circle cx="587.4" cy="362.2" r="1.3"/><circle cx="594.5" cy="362.2" r="1.3"/><circle cx="598.7" cy="362.2" r="1.3"/><circle cx="604.8" cy="362.2" r="1.3"/><circle cx="613.9" cy="362.2" r="1.3"/><circle cx="632.7" cy="362.2" r="1.3"/><circle cx="639.3" cy="362.2" r="1.3"/><circle cx="643.8" cy="362.2" r="1.3"/><circle cx="660.5" cy="362.2" r="1.3"/><circle cx="674.4" cy="362.2" r="1.3"/><circle cx="707.3" cy="362.2" r="1.3"/><circle cx="733.6" cy="362.2" r="1.3"/><circle cx="746.8" cy="362.2" r="1.3"/><circle cx="524.4" cy="359.6" r="1.3"/><circle cx="530.3" cy="359.6" r="1.3"/><circle cx="536.8" cy="359.6" r="1.3"/><circle cx="542.2" cy="359.6" r="1.3"/><circle cx="548.3" cy="359.6" r="1.3"/><circle cx="553.8" cy="359.6" r="1.3"/><circle cx="559.5" cy="359.6" r="1.3"/><circle cx="564.6" cy="359.6" r="1.3"/><circle cx="570.7" cy="359.6" r="1.3"/><circle cx="577.3" cy="359.6" r="1.3"/><circle cx="582.9" cy="359.6" r="1.3"/><circle cx="588.5" cy="359.6" r="1.3"/><circle cx="596.2" cy="359.6" r="1.3"/><circle cx="602.7" cy="359.6" r="1.3"/><circle cx="605.8" cy="359.6" r="1.3"/><circle cx="614.2" cy="359.6" r="1.3"/><circle cx="627.4" cy="359.6" r="1.3"/><circle cx="641.1" cy="359.6" r="1.3"/><circle cx="647.7" cy="359.6" r="1.3"/><circle cx="658.9" cy="359.6" r="1.3"/><circle cx="664.8" cy="359.6" r="1.3"/><circle cx="672.2" cy="359.6" r="1.3"/><circle cx="695.4" cy="359.6" r="1.3"/><circle cx="718.2" cy="359.6" r="1.3"/><circle cx="738.1" cy="359.6" r="1.3"/><circle cx="747.1" cy="359.6" r="1.3"/><circle cx="523.6" cy="357.1" r="1.3"/><circle cx="529.6" cy="357.1" r="1.3"/><circle cx="535.1" cy="357.1" r="1.3"/><circle cx="539.9" cy="357.1" r="1.3"/><circle cx="546.0" cy="357.1" r="1.3"/><circle cx="551.4" cy="357.1" r="1.3"/><circle cx="557.0" cy="357.1" r="1.3"/><circle cx="562.6" cy="357.1" r="1.3"/><circle cx="568.2" cy="357.1" r="1.3"/><circle cx="574.2" cy="357.1" r="1.3"/><circle cx="580.5" cy="357.1" r="1.3"/><circle cx="586.3" cy="357.1" r="1.3"/><circle cx="593.9" cy="357.1" r="1.3"/><circle cx="601.5" cy="357.1" r="1.3"/><circle cx="608.2" cy="357.1" r="1.3"/><circle cx="614.2" cy="357.1" r="1.3"/><circle cx="624.2" cy="357.1" r="1.3"/><circle cx="633.6" cy="357.1" r="1.3"/><circle cx="647.8" cy="357.1" r="1.3"/><circle cx="662.4" cy="357.1" r="1.3"/><circle cx="671.9" cy="357.1" r="1.3"/><circle cx="695.5" cy="357.1" r="1.3"/><circle cx="716.5" cy="357.1" r="1.3"/><circle cx="737.2" cy="357.1" r="1.3"/><circle cx="745.0" cy="357.1" r="1.3"/><circle cx="751.9" cy="357.1" r="1.3"/><circle cx="523.5" cy="354.6" r="1.3"/><circle cx="529.8" cy="354.6" r="1.3"/><circle cx="536.0" cy="354.6" r="1.3"/><circle cx="540.6" cy="354.6" r="1.3"/><circle cx="546.1" cy="354.6" r="1.3"/><circle cx="551.8" cy="354.6" r="1.3"/><circle cx="557.7" cy="354.6" r="1.3"/><circle cx="563.6" cy="354.6" r="1.3"/><circle cx="569.6" cy="354.6" r="1.3"/><circle cx="574.7" cy="354.6" r="1.3"/><circle cx="583.2" cy="354.6" r="1.3"/><circle cx="589.0" cy="354.6" r="1.3"/><circle cx="597.0" cy="354.6" r="1.3"/><circle cx="604.7" cy="354.6" r="1.3"/><circle cx="613.1" cy="354.6" r="1.3"/><circle cx="623.9" cy="354.6" r="1.3"/><circle cx="630.4" cy="354.6" r="1.3"/><circle cx="634.5" cy="354.6" r="1.3"/><circle cx="649.0" cy="354.6" r="1.3"/><circle cx="670.8" cy="354.6" r="1.3"/><circle cx="674.8" cy="354.6" r="1.3"/><circle cx="691.2" cy="354.6" r="1.3"/><circle cx="700.2" cy="354.6" r="1.3"/><circle cx="710.1" cy="354.6" r="1.3"/><circle cx="744.7" cy="354.6" r="1.3"/><circle cx="750.5" cy="354.6" r="1.3"/><circle cx="525.4" cy="352.0" r="1.3"/><circle cx="531.5" cy="352.0" r="1.3"/><circle cx="536.1" cy="352.0" r="1.3"/><circle cx="540.6" cy="352.0" r="1.3"/><circle cx="545.9" cy="352.0" r="1.3"/><circle cx="551.3" cy="352.0" r="1.3"/><circle cx="557.5" cy="352.0" r="1.3"/><circle cx="563.2" cy="352.0" r="1.3"/><circle cx="569.6" cy="352.0" r="1.3"/><circle cx="576.8" cy="352.0" r="1.3"/><circle cx="582.5" cy="352.0" r="1.3"/><circle cx="588.1" cy="352.0" r="1.3"/><circle cx="593.2" cy="352.0" r="1.3"/><circle cx="598.4" cy="352.0" r="1.3"/><circle cx="605.6" cy="352.0" r="1.3"/><circle cx="612.7" cy="352.0" r="1.3"/><circle cx="622.2" cy="352.0" r="1.3"/><circle cx="626.6" cy="352.0" r="1.3"/><circle cx="629.5" cy="352.0" r="1.3"/><circle cx="635.2" cy="352.0" r="1.3"/><circle cx="647.3" cy="352.0" r="1.3"/><circle cx="655.2" cy="352.0" r="1.3"/><circle cx="663.6" cy="352.0" r="1.3"/><circle cx="672.3" cy="352.0" r="1.3"/><circle cx="681.9" cy="352.0" r="1.3"/><circle cx="693.1" cy="352.0" r="1.3"/><circle cx="702.1" cy="352.0" r="1.3"/><circle cx="744.5" cy="352.0" r="1.3"/><circle cx="524.8" cy="349.5" r="1.3"/><circle cx="530.1" cy="349.5" r="1.3"/><circle cx="536.2" cy="349.5" r="1.3"/><circle cx="540.8" cy="349.5" r="1.3"/><circle cx="546.6" cy="349.5" r="1.3"/><circle cx="552.2" cy="349.5" r="1.3"/><circle cx="557.8" cy="349.5" r="1.3"/><circle cx="564.1" cy="349.5" r="1.3"/><circle cx="569.5" cy="349.5" r="1.3"/><circle cx="575.6" cy="349.5" r="1.3"/><circle cx="581.6" cy="349.5" r="1.3"/><circle cx="588.3" cy="349.5" r="1.3"/><circle cx="593.9" cy="349.5" r="1.3"/><circle cx="601.7" cy="349.5" r="1.3"/><circle cx="606.3" cy="349.5" r="1.3"/><circle cx="613.5" cy="349.5" r="1.3"/><circle cx="626.2" cy="349.5" r="1.3"/><circle cx="635.7" cy="349.5" r="1.3"/><circle cx="645.9" cy="349.5" r="1.3"/><circle cx="655.2" cy="349.5" r="1.3"/><circle cx="665.0" cy="349.5" r="1.3"/><circle cx="671.5" cy="349.5" r="1.3"/><circle cx="680.4" cy="349.5" r="1.3"/><circle cx="702.5" cy="349.5" r="1.3"/><circle cx="714.2" cy="349.5" r="1.3"/><circle cx="723.6" cy="349.5" r="1.3"/><circle cx="744.4" cy="349.5" r="1.3"/><circle cx="750.8" cy="349.5" r="1.3"/><circle cx="524.8" cy="347.0" r="1.3"/><circle cx="530.9" cy="347.0" r="1.3"/><circle cx="535.5" cy="347.0" r="1.3"/><circle cx="540.1" cy="347.0" r="1.3"/><circle cx="545.8" cy="347.0" r="1.3"/><circle cx="551.4" cy="347.0" r="1.3"/><circle cx="557.0" cy="347.0" r="1.3"/><circle cx="563.1" cy="347.0" r="1.3"/><circle cx="569.1" cy="347.0" r="1.3"/><circle cx="575.1" cy="347.0" r="1.3"/><circle cx="579.5" cy="347.0" r="1.3"/><circle cx="585.7" cy="347.0" r="1.3"/><circle cx="590.7" cy="347.0" r="1.3"/><circle cx="599.2" cy="347.0" r="1.3"/><circle cx="608.2" cy="347.0" r="1.3"/><circle cx="614.3" cy="347.0" r="1.3"/><circle cx="625.3" cy="347.0" r="1.3"/><circle cx="631.6" cy="347.0" r="1.3"/><circle cx="646.0" cy="347.0" r="1.3"/><circle cx="665.1" cy="347.0" r="1.3"/><circle cx="671.6" cy="347.0" r="1.3"/><circle cx="674.1" cy="347.0" r="1.3"/><circle cx="686.6" cy="347.0" r="1.3"/><circle cx="689.8" cy="347.0" r="1.3"/><circle cx="703.2" cy="347.0" r="1.3"/><circle cx="717.2" cy="347.0" r="1.3"/><circle cx="723.1" cy="347.0" r="1.3"/><circle cx="740.6" cy="347.0" r="1.3"/><circle cx="746.5" cy="347.0" r="1.3"/><circle cx="524.4" cy="344.4" r="1.3"/><circle cx="530.2" cy="344.4" r="1.3"/><circle cx="536.5" cy="344.4" r="1.3"/><circle cx="541.3" cy="344.4" r="1.3"/><circle cx="546.9" cy="344.4" r="1.3"/><circle cx="553.0" cy="344.4" r="1.3"/><circle cx="558.8" cy="344.4" r="1.3"/><circle cx="565.7" cy="344.4" r="1.3"/><circle cx="572.8" cy="344.4" r="1.3"/><circle cx="580.7" cy="344.4" r="1.3"/><circle cx="587.0" cy="344.4" r="1.3"/><circle cx="591.9" cy="344.4" r="1.3"/><circle cx="597.1" cy="344.4" r="1.3"/><circle cx="602.9" cy="344.4" r="1.3"/><circle cx="609.6" cy="344.4" r="1.3"/><circle cx="615.8" cy="344.4" r="1.3"/><circle cx="625.6" cy="344.4" r="1.3"/><circle cx="631.9" cy="344.4" r="1.3"/><circle cx="637.8" cy="344.4" r="1.3"/><circle cx="643.9" cy="344.4" r="1.3"/><circle cx="647.6" cy="344.4" r="1.3"/><circle cx="654.1" cy="344.4" r="1.3"/><circle cx="672.6" cy="344.4" r="1.3"/><circle cx="687.3" cy="344.4" r="1.3"/><circle cx="690.8" cy="344.4" r="1.3"/><circle cx="703.8" cy="344.4" r="1.3"/><circle cx="717.8" cy="344.4" r="1.3"/><circle cx="734.6" cy="344.4" r="1.3"/><circle cx="737.5" cy="344.4" r="1.3"/><circle cx="743.8" cy="344.4" r="1.3"/><circle cx="523.8" cy="341.9" r="1.3"/><circle cx="529.4" cy="341.9" r="1.3"/><circle cx="535.6" cy="341.9" r="1.3"/><circle cx="540.4" cy="341.9" r="1.3"/><circle cx="546.3" cy="341.9" r="1.3"/><circle cx="552.0" cy="341.9" r="1.3"/><circle cx="557.6" cy="341.9" r="1.3"/><circle cx="563.8" cy="341.9" r="1.3"/><circle cx="569.9" cy="341.9" r="1.3"/><circle cx="575.9" cy="341.9" r="1.3"/><circle cx="581.2" cy="341.9" r="1.3"/><circle cx="588.6" cy="341.9" r="1.3"/><circle cx="599.2" cy="341.9" r="1.3"/><circle cx="605.9" cy="341.9" r="1.3"/><circle cx="617.5" cy="341.9" r="1.3"/><circle cx="624.9" cy="341.9" r="1.3"/><circle cx="633.1" cy="341.9" r="1.3"/><circle cx="636.4" cy="341.9" r="1.3"/><circle cx="643.6" cy="341.9" r="1.3"/><circle cx="654.0" cy="341.9" r="1.3"/><circle cx="673.4" cy="341.9" r="1.3"/><circle cx="686.6" cy="341.9" r="1.3"/><circle cx="697.6" cy="341.9" r="1.3"/><circle cx="703.9" cy="341.9" r="1.3"/><circle cx="734.9" cy="341.9" r="1.3"/><circle cx="747.2" cy="341.9" r="1.3"/><circle cx="750.6" cy="341.9" r="1.3"/><circle cx="523.6" cy="339.4" r="1.3"/><circle cx="529.0" cy="339.4" r="1.3"/><circle cx="534.7" cy="339.4" r="1.3"/><circle cx="540.0" cy="339.4" r="1.3"/><circle cx="545.2" cy="339.4" r="1.3"/><circle cx="550.6" cy="339.4" r="1.3"/><circle cx="556.5" cy="339.4" r="1.3"/><circle cx="562.4" cy="339.4" r="1.3"/><circle cx="568.9" cy="339.4" r="1.3"/><circle cx="574.8" cy="339.4" r="1.3"/><circle cx="580.0" cy="339.4" r="1.3"/><circle cx="588.1" cy="339.4" r="1.3"/><circle cx="597.5" cy="339.4" r="1.3"/><circle cx="603.8" cy="339.4" r="1.3"/><circle cx="618.3" cy="339.4" r="1.3"/><circle cx="630.0" cy="339.4" r="1.3"/><circle cx="648.2" cy="339.4" r="1.3"/><circle cx="654.5" cy="339.4" r="1.3"/><circle cx="667.2" cy="339.4" r="1.3"/><circle cx="676.1" cy="339.4" r="1.3"/><circle cx="688.2" cy="339.4" r="1.3"/><circle cx="711.4" cy="339.4" r="1.3"/><circle cx="736.8" cy="339.4" r="1.3"/><circle cx="747.0" cy="339.4" r="1.3"/><circle cx="752.4" cy="339.4" r="1.3"/><circle cx="525.0" cy="336.9" r="1.3"/><circle cx="531.2" cy="336.9" r="1.3"/><circle cx="535.8" cy="336.9" r="1.3"/><circle cx="540.9" cy="336.9" r="1.3"/><circle cx="546.4" cy="336.9" r="1.3"/><circle cx="551.8" cy="336.9" r="1.3"/><circle cx="557.3" cy="336.9" r="1.3"/><circle cx="564.1" cy="336.9" r="1.3"/><circle cx="569.3" cy="336.9" r="1.3"/><circle cx="574.1" cy="336.9" r="1.3"/><circle cx="580.4" cy="336.9" r="1.3"/><circle cx="589.3" cy="336.9" r="1.3"/><circle cx="599.6" cy="336.9" r="1.3"/><circle cx="604.6" cy="336.9" r="1.3"/><circle cx="616.1" cy="336.9" r="1.3"/><circle cx="630.3" cy="336.9" r="1.3"/><circle cx="647.5" cy="336.9" r="1.3"/><circle cx="665.8" cy="336.9" r="1.3"/><circle cx="670.1" cy="336.9" r="1.3"/><circle cx="674.4" cy="336.9" r="1.3"/><circle cx="688.2" cy="336.9" r="1.3"/><circle cx="700.8" cy="336.9" r="1.3"/><circle cx="735.9" cy="336.9" r="1.3"/><circle cx="524.8" cy="334.3" r="1.3"/><circle cx="531.0" cy="334.3" r="1.3"/><circle cx="535.5" cy="334.3" r="1.3"/><circle cx="540.3" cy="334.3" r="1.3"/><circle cx="544.7" cy="334.3" r="1.3"/><circle cx="550.5" cy="334.3" r="1.3"/><circle cx="555.9" cy="334.3" r="1.3"/><circle cx="562.4" cy="334.3" r="1.3"/><circle cx="567.7" cy="334.3" r="1.3"/><circle cx="573.1" cy="334.3" r="1.3"/><circle cx="581.6" cy="334.3" r="1.3"/><circle cx="586.7" cy="334.3" r="1.3"/><circle cx="592.2" cy="334.3" r="1.3"/><circle cx="604.3" cy="334.3" r="1.3"/><circle cx="608.9" cy="334.3" r="1.3"/><circle cx="616.8" cy="334.3" r="1.3"/><circle cx="631.0" cy="334.3" r="1.3"/><circle cx="637.9" cy="334.3" r="1.3"/><circle cx="646.7" cy="334.3" r="1.3"/><circle cx="649.7" cy="334.3" r="1.3"/><circle cx="658.1" cy="334.3" r="1.3"/><circle cx="662.5" cy="334.3" r="1.3"/><circle cx="666.9" cy="334.3" r="1.3"/><circle cx="674.0" cy="334.3" r="1.3"/><circle cx="681.0" cy="334.3" r="1.3"/><circle cx="712.4" cy="334.3" r="1.3"/><circle cx="720.1" cy="334.3" r="1.3"/><circle cx="722.7" cy="334.3" r="1.3"/><circle cx="730.9" cy="334.3" r="1.3"/><circle cx="736.4" cy="334.3" r="1.3"/><circle cx="524.7" cy="331.8" r="1.3"/><circle cx="531.2" cy="331.8" r="1.3"/><circle cx="535.8" cy="331.8" r="1.3"/><circle cx="541.1" cy="331.8" r="1.3"/><circle cx="546.9" cy="331.8" r="1.3"/><circle cx="552.1" cy="331.8" r="1.3"/><circle cx="557.7" cy="331.8" r="1.3"/><circle cx="563.7" cy="331.8" r="1.3"/><circle cx="569.5" cy="331.8" r="1.3"/><circle cx="575.0" cy="331.8" r="1.3"/><circle cx="582.2" cy="331.8" r="1.3"/><circle cx="588.8" cy="331.8" r="1.3"/><circle cx="596.0" cy="331.8" r="1.3"/><circle cx="601.9" cy="331.8" r="1.3"/><circle cx="608.8" cy="331.8" r="1.3"/><circle cx="622.1" cy="331.8" r="1.3"/><circle cx="631.3" cy="331.8" r="1.3"/><circle cx="646.0" cy="331.8" r="1.3"/><circle cx="658.6" cy="331.8" r="1.3"/><circle cx="676.2" cy="331.8" r="1.3"/><circle cx="703.7" cy="331.8" r="1.3"/><circle cx="754.5" cy="331.8" r="1.3"/><circle cx="524.2" cy="329.3" r="1.3"/><circle cx="530.1" cy="329.3" r="1.3"/><circle cx="535.8" cy="329.3" r="1.3"/><circle cx="540.3" cy="329.3" r="1.3"/><circle cx="545.7" cy="329.3" r="1.3"/><circle cx="551.0" cy="329.3" r="1.3"/><circle cx="556.9" cy="329.3" r="1.3"/><circle cx="563.5" cy="329.3" r="1.3"/><circle cx="568.5" cy="329.3" r="1.3"/><circle cx="575.0" cy="329.3" r="1.3"/><circle cx="584.0" cy="329.3" r="1.3"/><circle cx="588.0" cy="329.3" r="1.3"/><circle cx="595.6" cy="329.3" r="1.3"/><circle cx="608.1" cy="329.3" r="1.3"/><circle cx="611.6" cy="329.3" r="1.3"/><circle cx="617.6" cy="329.3" r="1.3"/><circle cx="622.3" cy="329.3" r="1.3"/><circle cx="631.2" cy="329.3" r="1.3"/><circle cx="639.8" cy="329.3" r="1.3"/><circle cx="662.1" cy="329.3" r="1.3"/><circle cx="691.4" cy="329.3" r="1.3"/><circle cx="698.1" cy="329.3" r="1.3"/><circle cx="711.0" cy="329.3" r="1.3"/><circle cx="728.6" cy="329.3" r="1.3"/><circle cx="738.0" cy="329.3" r="1.3"/><circle cx="745.2" cy="329.3" r="1.3"/><circle cx="524.1" cy="326.7" r="1.3"/><circle cx="529.8" cy="326.7" r="1.3"/><circle cx="536.5" cy="326.7" r="1.3"/><circle cx="541.8" cy="326.7" r="1.3"/><circle cx="547.6" cy="326.7" r="1.3"/><circle cx="553.4" cy="326.7" r="1.3"/><circle cx="559.3" cy="326.7" r="1.3"/><circle cx="564.5" cy="326.7" r="1.3"/><circle cx="570.5" cy="326.7" r="1.3"/><circle cx="576.9" cy="326.7" r="1.3"/><circle cx="584.2" cy="326.7" r="1.3"/><circle cx="591.4" cy="326.7" r="1.3"/><circle cx="603.9" cy="326.7" r="1.3"/><circle cx="615.2" cy="326.7" r="1.3"/><circle cx="621.0" cy="326.7" r="1.3"/><circle cx="633.4" cy="326.7" r="1.3"/><circle cx="641.6" cy="326.7" r="1.3"/><circle cx="646.5" cy="326.7" r="1.3"/><circle cx="655.8" cy="326.7" r="1.3"/><circle cx="658.4" cy="326.7" r="1.3"/><circle cx="673.2" cy="326.7" r="1.3"/><circle cx="691.9" cy="326.7" r="1.3"/><circle cx="700.4" cy="326.7" r="1.3"/><circle cx="728.6" cy="326.7" r="1.3"/><circle cx="750.8" cy="326.7" r="1.3"/><circle cx="523.6" cy="324.2" r="1.3"/><circle cx="530.0" cy="324.2" r="1.3"/><circle cx="536.4" cy="324.2" r="1.3"/><circle cx="541.2" cy="324.2" r="1.3"/><circle cx="546.5" cy="324.2" r="1.3"/><circle cx="552.2" cy="324.2" r="1.3"/><circle cx="557.7" cy="324.2" r="1.3"/><circle cx="563.2" cy="324.2" r="1.3"/><circle cx="569.1" cy="324.2" r="1.3"/><circle cx="574.7" cy="324.2" r="1.3"/><circle cx="580.3" cy="324.2" r="1.3"/><circle cx="585.9" cy="324.2" r="1.3"/><circle cx="591.8" cy="324.2" r="1.3"/><circle cx="599.0" cy="324.2" r="1.3"/><circle cx="603.8" cy="324.2" r="1.3"/><circle cx="614.6" cy="324.2" r="1.3"/><circle cx="621.8" cy="324.2" r="1.3"/><circle cx="637.2" cy="324.2" r="1.3"/><circle cx="647.9" cy="324.2" r="1.3"/><circle cx="671.0" cy="324.2" r="1.3"/><circle cx="699.9" cy="324.2" r="1.3"/><circle cx="706.7" cy="324.2" r="1.3"/><circle cx="732.3" cy="324.2" r="1.3"/><circle cx="737.6" cy="324.2" r="1.3"/><circle cx="751.7" cy="324.2" r="1.3"/><circle cx="754.8" cy="324.2" r="1.3"/><circle cx="525.3" cy="321.7" r="1.3"/><circle cx="530.7" cy="321.7" r="1.3"/><circle cx="537.1" cy="321.7" r="1.3"/><circle cx="541.8" cy="321.7" r="1.3"/><circle cx="547.5" cy="321.7" r="1.3"/><circle cx="553.2" cy="321.7" r="1.3"/><circle cx="559.0" cy="321.7" r="1.3"/><circle cx="565.5" cy="321.7" r="1.3"/><circle cx="571.1" cy="321.7" r="1.3"/><circle cx="578.0" cy="321.7" r="1.3"/><circle cx="584.7" cy="321.7" r="1.3"/><circle cx="590.5" cy="321.7" r="1.3"/><circle cx="598.1" cy="321.7" r="1.3"/><circle cx="604.2" cy="321.7" r="1.3"/><circle cx="606.9" cy="321.7" r="1.3"/><circle cx="617.6" cy="321.7" r="1.3"/><circle cx="627.0" cy="321.7" r="1.3"/><circle cx="632.8" cy="321.7" r="1.3"/><circle cx="647.1" cy="321.7" r="1.3"/><circle cx="649.8" cy="321.7" r="1.3"/><circle cx="661.1" cy="321.7" r="1.3"/><circle cx="672.1" cy="321.7" r="1.3"/><circle cx="681.1" cy="321.7" r="1.3"/><circle cx="697.6" cy="321.7" r="1.3"/><circle cx="730.4" cy="321.7" r="1.3"/><circle cx="753.6" cy="321.7" r="1.3"/><circle cx="525.0" cy="319.1" r="1.3"/><circle cx="530.5" cy="319.1" r="1.3"/><circle cx="536.0" cy="319.1" r="1.3"/><circle cx="541.0" cy="319.1" r="1.3"/><circle cx="546.8" cy="319.1" r="1.3"/><circle cx="552.2" cy="319.1" r="1.3"/><circle cx="557.9" cy="319.1" r="1.3"/><circle cx="565.0" cy="319.1" r="1.3"/><circle cx="570.5" cy="319.1" r="1.3"/><circle cx="576.4" cy="319.1" r="1.3"/><circle cx="583.2" cy="319.1" r="1.3"/><circle cx="590.7" cy="319.1" r="1.3"/><circle cx="604.2" cy="319.1" r="1.3"/><circle cx="617.0" cy="319.1" r="1.3"/><circle cx="628.1" cy="319.1" r="1.3"/><circle cx="633.2" cy="319.1" r="1.3"/><circle cx="648.6" cy="319.1" r="1.3"/><circle cx="658.9" cy="319.1" r="1.3"/><circle cx="672.4" cy="319.1" r="1.3"/><circle cx="681.6" cy="319.1" r="1.3"/><circle cx="701.7" cy="319.1" r="1.3"/><circle cx="716.3" cy="319.1" r="1.3"/><circle cx="731.1" cy="319.1" r="1.3"/><circle cx="524.5" cy="316.6" r="1.3"/><circle cx="530.9" cy="316.6" r="1.3"/><circle cx="535.9" cy="316.6" r="1.3"/><circle cx="540.8" cy="316.6" r="1.3"/><circle cx="546.4" cy="316.6" r="1.3"/><circle cx="551.9" cy="316.6" r="1.3"/><circle cx="557.7" cy="316.6" r="1.3"/><circle cx="563.8" cy="316.6" r="1.3"/><circle cx="569.6" cy="316.6" r="1.3"/><circle cx="576.2" cy="316.6" r="1.3"/><circle cx="582.7" cy="316.6" r="1.3"/><circle cx="587.1" cy="316.6" r="1.3"/><circle cx="594.0" cy="316.6" r="1.3"/><circle cx="600.1" cy="316.6" r="1.3"/><circle cx="604.7" cy="316.6" r="1.3"/><circle cx="618.8" cy="316.6" r="1.3"/><circle cx="627.8" cy="316.6" r="1.3"/><circle cx="634.7" cy="316.6" r="1.3"/><circle cx="648.6" cy="316.6" r="1.3"/><circle cx="658.7" cy="316.6" r="1.3"/><circle cx="665.6" cy="316.6" r="1.3"/><circle cx="688.4" cy="316.6" r="1.3"/><circle cx="701.5" cy="316.6" r="1.3"/><circle cx="707.3" cy="316.6" r="1.3"/><circle cx="725.0" cy="316.6" r="1.3"/><circle cx="734.4" cy="316.6" r="1.3"/><circle cx="524.2" cy="314.1" r="1.3"/><circle cx="530.0" cy="314.1" r="1.3"/><circle cx="535.9" cy="314.1" r="1.3"/><circle cx="540.2" cy="314.1" r="1.3"/><circle cx="545.4" cy="314.1" r="1.3"/><circle cx="551.1" cy="314.1" r="1.3"/><circle cx="557.0" cy="314.1" r="1.3"/><circle cx="563.0" cy="314.1" r="1.3"/><circle cx="569.9" cy="314.1" r="1.3"/><circle cx="577.6" cy="314.1" r="1.3"/><circle cx="584.5" cy="314.1" r="1.3"/><circle cx="590.7" cy="314.1" r="1.3"/><circle cx="597.7" cy="314.1" r="1.3"/><circle cx="607.8" cy="314.1" r="1.3"/><circle cx="613.9" cy="314.1" r="1.3"/><circle cx="618.8" cy="314.1" r="1.3"/><circle cx="637.6" cy="314.1" r="1.3"/><circle cx="645.7" cy="314.1" r="1.3"/><circle cx="659.1" cy="314.1" r="1.3"/><circle cx="670.9" cy="314.1" r="1.3"/><circle cx="680.2" cy="314.1" r="1.3"/><circle cx="694.4" cy="314.1" r="1.3"/><circle cx="710.0" cy="314.1" r="1.3"/><circle cx="724.3" cy="314.1" r="1.3"/><circle cx="731.8" cy="314.1" r="1.3"/><circle cx="741.1" cy="314.1" r="1.3"/><circle cx="745.3" cy="314.1" r="1.3"/><circle cx="751.3" cy="314.1" r="1.3"/><circle cx="523.7" cy="311.6" r="1.3"/><circle cx="530.4" cy="311.6" r="1.3"/><circle cx="536.4" cy="311.6" r="1.3"/><circle cx="541.3" cy="311.6" r="1.3"/><circle cx="546.8" cy="311.6" r="1.3"/><circle cx="552.4" cy="311.6" r="1.3"/><circle cx="558.0" cy="311.6" r="1.3"/><circle cx="564.3" cy="311.6" r="1.3"/><circle cx="570.4" cy="311.6" r="1.3"/><circle cx="576.5" cy="311.6" r="1.3"/><circle cx="583.7" cy="311.6" r="1.3"/><circle cx="590.1" cy="311.6" r="1.3"/><circle cx="598.4" cy="311.6" r="1.3"/><circle cx="605.5" cy="311.6" r="1.3"/><circle cx="615.5" cy="311.6" r="1.3"/><circle cx="619.1" cy="311.6" r="1.3"/><circle cx="631.4" cy="311.6" r="1.3"/><circle cx="640.4" cy="311.6" r="1.3"/><circle cx="646.7" cy="311.6" r="1.3"/><circle cx="660.0" cy="311.6" r="1.3"/><circle cx="671.5" cy="311.6" r="1.3"/><circle cx="689.7" cy="311.6" r="1.3"/><circle cx="697.1" cy="311.6" r="1.3"/><circle cx="714.9" cy="311.6" r="1.3"/><circle cx="724.9" cy="311.6" r="1.3"/><circle cx="734.9" cy="311.6" r="1.3"/><circle cx="745.2" cy="311.6" r="1.3"/><circle cx="752.8" cy="311.6" r="1.3"/><circle cx="523.6" cy="309.0" r="1.3"/><circle cx="529.2" cy="309.0" r="1.3"/><circle cx="535.5" cy="309.0" r="1.3"/><circle cx="540.3" cy="309.0" r="1.3"/><circle cx="545.6" cy="309.0" r="1.3"/><circle cx="551.8" cy="309.0" r="1.3"/><circle cx="557.8" cy="309.0" r="1.3"/><circle cx="564.8" cy="309.0" r="1.3"/><circle cx="570.2" cy="309.0" r="1.3"/><circle cx="576.2" cy="309.0" r="1.3"/><circle cx="585.1" cy="309.0" r="1.3"/><circle cx="590.5" cy="309.0" r="1.3"/><circle cx="601.3" cy="309.0" r="1.3"/><circle cx="605.4" cy="309.0" r="1.3"/><circle cx="615.4" cy="309.0" r="1.3"/><circle cx="623.6" cy="309.0" r="1.3"/><circle cx="631.9" cy="309.0" r="1.3"/><circle cx="641.0" cy="309.0" r="1.3"/><circle cx="649.0" cy="309.0" r="1.3"/><circle cx="653.0" cy="309.0" r="1.3"/><circle cx="657.5" cy="309.0" r="1.3"/><circle cx="664.3" cy="309.0" r="1.3"/><circle cx="682.8" cy="309.0" r="1.3"/><circle cx="690.2" cy="309.0" r="1.3"/><circle cx="700.5" cy="309.0" r="1.3"/><circle cx="734.3" cy="309.0" r="1.3"/></g>
<rect x="509.85" y="291.20" width="2.7" height="105.60" fill="#111"/>
<rect x="786.65" y="291.20" width="2.7" height="105.60" fill="#111"/>
<rect x="509.85" y="291.20" width="279.50" height="2.9" fill="#111"/>
<rect x="509.85" y="394.00" width="279.50" height="2.8" fill="#111"/>
<rect x="510.50" y="289.70" width="2.0" height="2.2" fill="#111"/>
<rect x="510.50" y="396.30" width="2.0" height="2.2" fill="#111"/>
<text class="t" x="511.50" y="407.70" text-anchor="middle">0</text>
<rect x="550.77" y="289.70" width="2.0" height="2.2" fill="#111"/>
<rect x="550.77" y="396.30" width="2.0" height="2.2" fill="#111"/>
<text class="t" x="551.77" y="407.70" text-anchor="middle">25</text>
<rect x="591.05" y="289.70" width="2.0" height="2.2" fill="#111"/>
<rect x="591.05" y="396.30" width="2.0" height="2.2" fill="#111"/>
<text class="t" x="592.05" y="407.70" text-anchor="middle">50</text>
<rect x="631.33" y="289.70" width="2.0" height="2.2" fill="#111"/>
<rect x="631.33" y="396.30" width="2.0" height="2.2" fill="#111"/>
<text class="t" x="632.33" y="407.70" text-anchor="middle">75</text>
<rect x="671.60" y="289.70" width="2.0" height="2.2" fill="#111"/>
<rect x="671.60" y="396.30" width="2.0" height="2.2" fill="#111"/>
<text class="t" x="672.60" y="407.70" text-anchor="middle">100</text>
<rect x="711.88" y="289.70" width="2.0" height="2.2" fill="#111"/>
<rect x="711.88" y="396.30" width="2.0" height="2.2" fill="#111"/>
<text class="t" x="712.88" y="407.70" text-anchor="middle">125</text>
<rect x="752.15" y="289.70" width="2.0" height="2.2" fill="#111"/>
<rect x="752.15" y="396.30" width="2.0" height="2.2" fill="#111"/>
<text class="t" x="753.15" y="407.70" text-anchor="middle">150</text>
<rect x="508.60" y="381.50" width="2" height="1.8" fill="#111"/>
<rect x="789.00" y="381.50" width="2" height="1.8" fill="#111"/>
<text class="t" x="507.20" y="385.80" text-anchor="end">0</text>
<rect x="508.60" y="356.20" width="2" height="1.8" fill="#111"/>
<rect x="789.00" y="356.20" width="2" height="1.8" fill="#111"/>
<text class="t" x="507.20" y="360.50" text-anchor="end">10</text>
<rect x="508.60" y="330.90" width="2" height="1.8" fill="#111"/>
<rect x="789.00" y="330.90" width="2" height="1.8" fill="#111"/>
<text class="t" x="507.20" y="335.20" text-anchor="end">20</text>
<rect x="508.60" y="305.60" width="2" height="1.8" fill="#111"/>
<rect x="789.00" y="305.60" width="2" height="1.8" fill="#111"/>
<text class="t" x="507.20" y="309.90" text-anchor="end">30</text>
<text class="tm" x="652.0" y="416.0" text-anchor="middle">Time (msec)</text>
<text class="ax" transform="translate(484.6 343.0) rotate(-90)" text-anchor="middle">Presentation Number</text>
</g>
<path d="M 302.25 421.88 L 307.25 421.88 L 307.25 424.00 Q 307.25 426.25 310.00 426.25 L 325.00 426.25 Q 329.50 426.25 331.00 430.25 Q 332.50 426.25 337.00 426.25 L 352.25 426.25 Q 355.00 426.25 355.00 424.00 L 355.00 421.88 L 360.00 421.88 L 360.00 426.88 Q 360.00 432.00 354.50 432.00 L 338.75 432.00 Q 334.50 432.00 333.88 436.62 L 328.25 436.62 Q 327.62 432.00 323.25 432.00 L 307.75 432.00 Q 302.25 432.00 302.25 426.88 Z" fill="#111"/>
<path d="M 696.17 420.02 L 701.24 420.02 L 701.24 422.15 Q 701.24 424.40 704.03 424.40 L 719.22 424.40 Q 723.78 424.40 725.30 428.40 Q 726.82 424.40 731.38 424.40 L 746.82 424.40 Q 749.61 424.40 749.61 422.15 L 749.61 420.02 L 754.68 420.02 L 754.68 425.02 Q 754.68 430.15 749.10 430.15 L 733.15 430.15 Q 728.84 430.15 728.21 434.77 L 722.51 434.77 Q 721.88 430.15 717.45 430.15 L 701.75 430.15 Q 696.17 430.15 696.17 425.02 Z" fill="#111"/>
<line x1="322.80" y1="451.40" x2="322.80" y2="548.60" stroke="#111" stroke-width="1.5" stroke-dasharray="1.4 4.6"/>
<line x1="347.40" y1="451.40" x2="347.40" y2="548.60" stroke="#111" stroke-width="1.5" stroke-dasharray="1.4 4.6"/>
<rect x="307.48" y="534.27" width="1.2" height="15.33" fill="#1c1c1c" stroke="#222" stroke-width="0"/>
<rect x="309.56" y="498.50" width="1.2" height="51.10" fill="#1c1c1c" stroke="#222" stroke-width="0"/>
<rect x="311.63" y="493.39" width="1.2" height="56.21" fill="#1c1c1c" stroke="#222" stroke-width="0"/>
<rect x="313.71" y="511.27" width="1.2" height="38.33" fill="#1c1c1c" stroke="#222" stroke-width="0"/>
<rect x="315.79" y="506.17" width="1.2" height="43.44" fill="#1c1c1c" stroke="#222" stroke-width="0"/>
<rect x="317.86" y="501.06" width="1.2" height="48.55" fill="#1c1c1c" stroke="#222" stroke-width="0"/>
<rect x="319.94" y="498.50" width="1.2" height="51.10" fill="#1c1c1c" stroke="#222" stroke-width="0"/>
<rect x="322.02" y="516.38" width="1.2" height="33.22" fill="#1c1c1c" stroke="#222" stroke-width="0"/>
<rect x="324.10" y="511.27" width="1.2" height="38.33" fill="#1c1c1c" stroke="#222" stroke-width="0"/>
<rect x="326.17" y="513.83" width="1.2" height="35.77" fill="#1c1c1c" stroke="#222" stroke-width="0"/>
<rect x="328.25" y="524.05" width="1.2" height="25.55" fill="#1c1c1c" stroke="#222" stroke-width="0"/>
<rect x="330.33" y="534.27" width="1.2" height="15.33" fill="#1c1c1c" stroke="#222" stroke-width="0"/>
<rect x="332.40" y="529.16" width="1.2" height="20.44" fill="#1c1c1c" stroke="#222" stroke-width="0"/>
<rect x="334.48" y="539.38" width="1.2" height="10.22" fill="#1c1c1c" stroke="#222" stroke-width="0"/>
<rect x="336.56" y="536.83" width="1.2" height="12.78" fill="#1c1c1c" stroke="#222" stroke-width="0"/>
<rect x="338.63" y="529.16" width="1.2" height="20.44" fill="#1c1c1c" stroke="#222" stroke-width="0"/>
<rect x="340.71" y="544.49" width="1.2" height="5.11" fill="#1c1c1c" stroke="#222" stroke-width="0"/>
<rect x="342.79" y="539.38" width="1.2" height="10.22" fill="#1c1c1c" stroke="#222" stroke-width="0"/>
<rect x="344.87" y="541.94" width="1.2" height="7.67" fill="#1c1c1c" stroke="#222" stroke-width="0"/>
<rect x="346.94" y="541.94" width="1.2" height="7.67" fill="#1c1c1c" stroke="#222" stroke-width="0"/>
<rect x="349.02" y="547.05" width="1.2" height="2.56" fill="#1c1c1c" stroke="#222" stroke-width="0"/>
<rect x="351.10" y="541.94" width="1.2" height="7.67" fill="#1c1c1c" stroke="#222" stroke-width="0"/>
<rect x="353.17" y="544.49" width="1.2" height="5.11" fill="#1c1c1c" stroke="#222" stroke-width="0"/>
<rect x="355.25" y="547.05" width="1.2" height="2.56" fill="#1c1c1c" stroke="#222" stroke-width="0"/>
<rect x="361.48" y="539.38" width="1.2" height="10.22" fill="#1c1c1c" stroke="#222" stroke-width="0"/>
<rect x="363.56" y="544.49" width="1.2" height="5.11" fill="#1c1c1c" stroke="#222" stroke-width="0"/>
<rect x="367.71" y="544.49" width="1.2" height="5.11" fill="#1c1c1c" stroke="#222" stroke-width="0"/>
<rect x="369.79" y="544.49" width="1.2" height="5.11" fill="#1c1c1c" stroke="#222" stroke-width="0"/>
<rect x="297.7" y="447.4" width="75.69999999999999" height="102.20000000000005" fill="none" stroke="#111" stroke-width="2.8"/>
<text class="td" transform="translate(298.2 559.0) scale(1.1 1)" text-anchor="middle">0</text>
<text class="td" transform="translate(322.8 559.0) scale(1.1 1)" text-anchor="middle">10</text>
<text class="td" transform="translate(347.4 559.0) scale(1.1 1)" text-anchor="middle">20</text>
<text class="td" transform="translate(372.0 559.0) scale(1.1 1)" text-anchor="middle">30</text>
<text class="td" transform="translate(295.1 450.4) scale(1.1 1)" text-anchor="end">40</text>
<text class="td" transform="translate(294.1 553.8) scale(1.1 1)" text-anchor="end">0</text>
<text class="ax" transform="translate(335.0 571.0) scale(1.07 1)" text-anchor="middle" style="font-size:9.1px">Interval Dur. (msec)</text>
<text class="ax" transform="translate(285.3 503.0) rotate(-90)" text-anchor="middle">Spikes/Bin</text>
<line x1="716.80" y1="450.80" x2="716.80" y2="547.30" stroke="#111" stroke-width="1.5" stroke-dasharray="1.4 4.6"/>
<line x1="741.60" y1="450.80" x2="741.60" y2="547.30" stroke="#111" stroke-width="1.5" stroke-dasharray="1.4 4.6"/>
<rect x="691.4" y="446.8" width="76.89999999999998" height="101.49999999999994" fill="none" stroke="#111" stroke-width="2.8"/>
<text class="td" transform="translate(692.0 557.7) scale(1.1 1)" text-anchor="middle">0</text>
<text class="td" transform="translate(716.8 557.7) scale(1.1 1)" text-anchor="middle">10</text>
<text class="td" transform="translate(741.6 557.7) scale(1.1 1)" text-anchor="middle">20</text>
<text class="td" transform="translate(766.4 557.7) scale(1.1 1)" text-anchor="middle">30</text>
<text class="td" transform="translate(688.8 449.8) scale(1.1 1)" text-anchor="end">15</text>
<text class="td" transform="translate(687.8 552.5) scale(1.1 1)" text-anchor="end">0</text>
<text class="ax" transform="translate(729.3 571.0) scale(1.07 1)" text-anchor="middle" style="font-size:9.1px">Interval Dur. (msec)</text>
<text class="ax" transform="translate(674.0 502.0) rotate(-90)" text-anchor="middle">Spikes/Bin</text>
<rect x="699.50" y="527.67" width="6.50" height="19.43" fill="#1a1a1a"/>
<rect x="700.90" y="460.00" width="1.40" height="87.10" fill="#1a1a1a"/>
<rect x="702.30" y="493.50" width="0.80" height="53.60" fill="#1a1a1a"/>
<rect x="703.10" y="506.90" width="0.90" height="40.20" fill="#1a1a1a"/>
<rect x="704.00" y="520.30" width="1.30" height="26.80" fill="#1a1a1a"/>
<rect x="707.00" y="541.40" width="2.50" height="5.70" fill="#1a1a1a"/>
<rect x="711.00" y="541.40" width="1.00" height="5.70" fill="#1a1a1a"/>
<rect x="713.50" y="541.40" width="6.50" height="5.70" fill="#1a1a1a"/>
<rect x="715.35" y="535.39" width="3.30" height="12.06" fill="none" stroke="#2a2a2a" stroke-width="0.8"/>
<rect x="721.50" y="541.40" width="3.50" height="5.70" fill="#1a1a1a"/>
<rect x="726.50" y="541.40" width="7.50" height="5.70" fill="#1a1a1a"/>
<rect x="726.60" y="535.04" width="1.00" height="12.06" fill="#1a1a1a"/>
<rect x="729.40" y="527.00" width="0.90" height="20.10" fill="#1a1a1a"/>
<rect x="733.20" y="535.04" width="1.30" height="12.06" fill="#1a1a1a"/>
<rect x="735.50" y="541.40" width="2.00" height="5.70" fill="#1a1a1a"/>
<rect x="741.35" y="541.75" width="2.80" height="5.70" fill="none" stroke="#2a2a2a" stroke-width="0.8"/>
<rect x="753.50" y="541.40" width="2.00" height="5.70" fill="#1a1a1a"/>
<rect x="757.35" y="541.75" width="0.80" height="5.70" fill="none" stroke="#2a2a2a" stroke-width="0.8"/>
<rect x="762.55" y="541.75" width="0.60" height="5.70" fill="none" stroke="#2a2a2a" stroke-width="0.8"/>
</svg></body></html>
